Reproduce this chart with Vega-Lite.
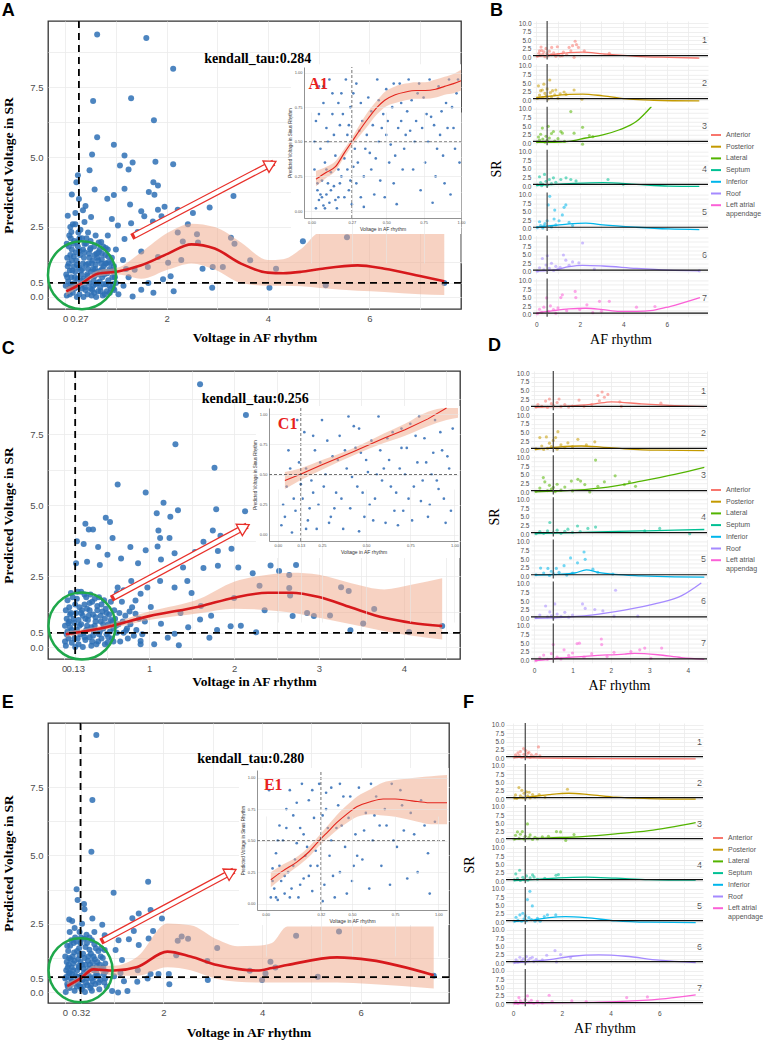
{
"$schema":"https://vega.github.io/schema/vega-lite/v6.json",
"background":"white",
"padding":{"left":1,"top":1,"right":0,"bottom":0},
"config":{
 "view":{"stroke":null},
 "font":"Liberation Sans",
 "axis":{"domain":false,"ticks":false,"labelColor":"#4D4D4D","gridColor":"#EBEBEB","gridWidth":0.8,"labelFont":"Liberation Sans"},
 "title":{"anchor":"start","font":"Liberation Sans","fontSize":18,"fontWeight":"bold","color":"#000","frame":"bounds"},
 "legend":{"labelFont":"Liberation Sans"}
},
"datasets":{
 "Ap":[{"x":0.63,"y":9.38},{"x":1.6,"y":9.25},{"x":2.13,"y":8.15},{"x":0.55,"y":7.0},{"x":1.3,"y":7.1},{"x":1.75,"y":6.31},{"x":0.63,"y":5.71},{"x":0.96,"y":5.44},{"x":0.53,"y":5.09},{"x":1.17,"y":5.05},{"x":1.08,"y":4.7},{"x":1.33,"y":4.8},{"x":1.25,"y":4.55},{"x":1.78,"y":4.83},{"x":2.13,"y":4.74},{"x":0.25,"y":4.35},{"x":0.48,"y":4.53},{"x":0.58,"y":3.84},{"x":0.83,"y":3.51},{"x":0.96,"y":3.64},{"x":1.17,"y":3.87},{"x":1.28,"y":3.3},{"x":1.74,"y":4.1},{"x":1.83,"y":3.98},{"x":1.65,"y":3.75},{"x":1.76,"y":3.65},{"x":3.32,"y":3.61},{"x":2.85,"y":3.2},{"x":2.52,"y":3.0},{"x":1.96,"y":3.22},{"x":2.22,"y":3.12},{"x":1.83,"y":3.12},{"x":1.5,"y":3.06},{"x":1.56,"y":2.88},{"x":1.73,"y":2.7},{"x":1.3,"y":2.63},{"x":1.9,"y":2.88},{"x":2.22,"y":2.3},{"x":2.32,"y":1.98},{"x":2.62,"y":1.95},{"x":2.42,"y":2.6},{"x":2.6,"y":2.24},{"x":2.71,"y":1.01},{"x":2.91,"y":1.07},{"x":3.11,"y":1.07},{"x":3.34,"y":1.9},{"x":3.27,"y":2.12},{"x":3.65,"y":1.31},{"x":4.16,"y":1.01},{"x":4.69,"y":1.99},{"x":5.56,"y":2.13},{"x":2.9,"y":0.33},{"x":4.03,"y":0.33},{"x":5.14,"y":0.42},{"x":7.48,"y":0.5},{"x":2.14,"y":0.2},{"x":2.29,"y":1.32},{"x":2.03,"y":1.22},{"x":1.93,"y":0.63},{"x":2.08,"y":0.74},{"x":1.64,"y":0.5},{"x":1.74,"y":0.15},{"x":1.5,"y":0.26},{"x":1.33,"y":0.02},{"x":0.71,"y":1.96},{"x":0.84,"y":2.2},{"x":1.04,"y":2.55},{"x":0.38,"y":2.68},{"x":0.12,"y":2.32},{"x":0.92,"y":2.79},{"x":0.51,"y":2.86},{"x":1.43,"y":2.32},{"x":1.17,"y":2.07},{"x":1.5,"y":1.62},{"x":1.14,"y":1.32},{"x":1.37,"y":0.97},{"x":1.63,"y":1.07},{"x":1.83,"y":1.43},{"x":0.13,"y":3.66},{"x":0.22,"y":4.1},{"x":0.27,"y":3.5},{"x":0.4,"y":3.25},{"x":0.2,"y":3.0},{"x":0.35,"y":3.1},{"x":0.05,"y":2.9},{"x":0.15,"y":2.6},{"x":1.15,"y":0.4},{"x":1.25,"y":0.7},{"x":1.0,"y":1.7},{"x":1.2,"y":1.0},{"x":1.05,"y":0.1},{"x":0.95,"y":0.3},
  {"x":0.03,"y":0.05},{"x":0.08,"y":0.3},{"x":0.12,"y":0.7},{"x":0.05,"y":1.1},{"x":0.1,"y":1.5},{"x":0.15,"y":0.15},{"x":0.18,"y":0.5},{"x":0.2,"y":0.9},{"x":0.22,"y":1.3},{"x":0.25,"y":1.8},{"x":0.28,"y":0.1},{"x":0.3,"y":0.45},{"x":0.32,"y":0.8},{"x":0.35,"y":1.2},{"x":0.38,"y":1.6},{"x":0.4,"y":0.25},{"x":0.42,"y":0.6},{"x":0.45,"y":1.0},{"x":0.48,"y":1.4},{"x":0.5,"y":2.0},{"x":0.52,"y":0.05},{"x":0.55,"y":0.4},{"x":0.58,"y":0.75},{"x":0.6,"y":1.15},{"x":0.62,"y":1.55},{"x":0.65,"y":0.2},{"x":0.68,"y":0.55},{"x":0.7,"y":0.95},{"x":0.72,"y":1.35},{"x":0.75,"y":1.8},{"x":0.78,"y":0.1},{"x":0.8,"y":0.45},{"x":0.83,"y":0.85},{"x":0.86,"y":1.25},{"x":0.9,"y":0.3},{"x":0.93,"y":0.7},{"x":0.96,"y":1.1},{"x":1.0,"y":0.5},{"x":0.06,"y":0.55},{"x":0.09,"y":0.95},{"x":0.13,"y":1.3},{"x":0.16,"y":1.9},{"x":0.19,"y":0.3},{"x":0.24,"y":0.65},{"x":0.27,"y":1.05},{"x":0.29,"y":1.5},{"x":0.33,"y":2.1},{"x":0.36,"y":0.0},{"x":0.39,"y":0.35},{"x":0.43,"y":0.8},{"x":0.46,"y":1.2},{"x":0.49,"y":1.7},{"x":0.53,"y":0.25},{"x":0.56,"y":0.6},{"x":0.59,"y":1.0},{"x":0.63,"y":1.4},{"x":0.66,"y":1.95},{"x":0.69,"y":0.35},{"x":0.73,"y":0.7},{"x":0.76,"y":1.1},{"x":0.79,"y":1.5},{"x":0.82,"y":0.2},{"x":0.85,"y":0.6},{"x":0.88,"y":1.0},{"x":0.92,"y":1.4},{"x":0.97,"y":0.25},{"x":0.02,"y":0.8},{"x":0.04,"y":1.4},{"x":0.07,"y":1.8},{"x":0.11,"y":2.1},{"x":0.14,"y":0.4},{"x":0.17,"y":1.1},{"x":0.21,"y":1.6},{"x":0.23,"y":0.0},{"x":0.26,"y":2.3},{"x":0.31,"y":0.6},{"x":0.34,"y":1.0},{"x":0.37,"y":1.4},{"x":0.41,"y":1.9},{"x":0.44,"y":0.1},{"x":0.47,"y":0.5},{"x":0.51,"y":0.9},{"x":0.54,"y":1.3},{"x":0.57,"y":1.8},{"x":0.61,"y":0.0},{"x":0.64,"y":0.5},{"x":0.67,"y":0.8},{"x":0.71,"y":1.2},{"x":0.74,"y":0.05},{"x":0.77,"y":0.8},{"x":0.81,"y":1.2},{"x":0.84,"y":1.7},{"x":0.87,"y":0.4},{"x":0.95,"y":0.9},{"x":0.2,"y":2.6},{"x":0.1,"y":2.5},{"x":0.3,"y":2.4},{"x":0.45,"y":2.3},{"x":0.6,"y":2.2},
  {"x":0.01,"y":0.4},{"x":0.04,"y":0.7},{"x":0.07,"y":1.2},{"x":0.09,"y":0.1},{"x":0.11,"y":0.45},{"x":0.14,"y":0.95},{"x":0.17,"y":1.45},{"x":0.19,"y":0.7},{"x":0.23,"y":1.15},{"x":0.26,"y":0.35},{"x":0.28,"y":1.65},{"x":0.31,"y":0.95},{"x":0.33,"y":0.3},{"x":0.36,"y":0.65},{"x":0.38,"y":1.9},{"x":0.41,"y":1.15},{"x":0.44,"y":0.75},{"x":0.47,"y":1.55},{"x":0.5,"y":0.3},{"x":0.52,"y":1.2},{"x":0.55,"y":1.0},{"x":0.57,"y":0.15},{"x":0.6,"y":0.45},{"x":0.62,"y":0.9},{"x":0.65,"y":1.3},{"x":0.68,"y":1.7},{"x":0.7,"y":0.2},{"x":0.73,"y":1.0},{"x":0.76,"y":0.45},{"x":0.79,"y":1.2},{"x":0.82,"y":0.9},{"x":0.85,"y":1.45},{"x":0.88,"y":0.15},{"x":0.91,"y":0.95},{"x":0.94,"y":0.45},{"x":0.03,"y":1.9},{"x":0.08,"y":2.2},{"x":0.13,"y":1.7},{"x":0.18,"y":2.0},{"x":0.23,"y":1.95},{"x":0.28,"y":2.1},{"x":0.35,"y":1.7},{"x":0.42,"y":2.1},{"x":0.5,"y":1.75},{"x":0.58,"y":1.5},{"x":0.66,"y":1.6},{"x":0.72,"y":1.55},{"x":0.8,"y":1.75},{"x":0.9,"y":1.2},{"x":0.98,"y":0.7}],
 "Ac":[{"x":0.02,"y":0.2,"lo":0.05,"hi":0.35},{"x":0.32,"y":0.48,"lo":0.38,"hi":0.58},{"x":0.64,"y":0.83,"lo":0.72,"hi":0.95},{"x":1.04,"y":0.91,"lo":0.8,"hi":1.05},{"x":1.5,"y":1.13,"lo":0.65,"hi":1.6},{"x":2.03,"y":1.55,"lo":0.98,"hi":2.3},{"x":2.49,"y":1.88,"lo":1.2,"hi":2.62},{"x":2.95,"y":1.73,"lo":0.98,"hi":2.5},{"x":3.47,"y":1.19,"lo":0.5,"hi":1.95},{"x":4.0,"y":0.87,"lo":0.4,"hi":1.32},{"x":4.3,"y":0.85,"lo":0.4,"hi":1.35},{"x":4.66,"y":0.9,"lo":0.38,"hi":1.72},{"x":5.03,"y":1.0,"lo":0.32,"hi":2.3},{"x":5.77,"y":1.13,"lo":0.22,"hi":2.3},{"x":6.3,"y":1.01,"lo":0.18,"hi":2.3},{"x":7.0,"y":0.75,"lo":0.1,"hi":2.3},{"x":7.48,"y":0.56,"lo":0.07,"hi":2.3}],
 "A1p":[{"x":0.03,"y":0.02},{"x":0.05,"y":0.08},{"x":0.08,"y":0.04},{"x":0.1,"y":0.12},{"x":0.04,"y":0.15},{"x":0.07,"y":0.22},{"x":0.12,"y":0.06},{"x":0.15,"y":0.18},{"x":0.02,"y":0.3},{"x":0.09,"y":0.35},{"x":0.13,"y":0.28},{"x":0.18,"y":0.1},{"x":0.2,"y":0.25},{"x":0.06,"y":0.45},{"x":0.11,"y":0.5},{"x":0.16,"y":0.4},{"x":0.22,"y":0.38},{"x":0.25,"y":0.15},{"x":0.27,"y":0.05},{"x":0.3,"y":0.2},{"x":0.33,"y":0.1},{"x":0.28,"y":0.32},{"x":0.24,"y":0.55},{"x":0.19,"y":0.62},{"x":0.14,"y":0.7},{"x":0.08,"y":0.78},{"x":0.05,"y":0.9},{"x":0.12,"y":0.95},{"x":0.2,"y":0.85},{"x":0.26,"y":0.75},{"x":0.3,"y":0.92},{"x":0.34,"y":0.65},{"x":0.36,"y":0.45},{"x":0.4,"y":0.3},{"x":0.42,"y":0.12},{"x":0.45,"y":0.5},{"x":0.48,"y":0.7},{"x":0.5,"y":0.88},{"x":0.52,"y":0.35},{"x":0.55,"y":0.2},{"x":0.58,"y":0.6},{"x":0.6,"y":0.78},{"x":0.62,"y":0.45},{"x":0.65,"y":0.95},{"x":0.68,"y":0.3},{"x":0.7,"y":0.65},{"x":0.73,"y":0.15},{"x":0.75,"y":0.82},{"x":0.78,"y":0.5},{"x":0.8,"y":0.68},{"x":0.83,"y":0.25},{"x":0.85,"y":0.9},{"x":0.88,"y":0.4},{"x":0.9,"y":0.78},{"x":0.93,"y":0.12},{"x":0.95,"y":0.6},{"x":0.97,"y":0.85},{"x":0.99,"y":0.35},{"x":0.38,"y":0.82},{"x":0.44,"y":0.95},{"x":0.57,"y":0.05},{"x":0.63,"y":0.55},{"x":0.72,"y":0.92},{"x":0.81,"y":0.06},{"x":0.86,"y":0.55},{"x":0.92,"y":0.95},{"x":0.1,"y":0.6},{"x":0.17,"y":0.02},{"x":0.23,"y":0.95},{"x":0.32,"y":0.58},{"x":0.46,"y":0.22},{"x":0.54,"y":0.75},{"x":0.67,"y":0.8},{"x":0.76,"y":0.35},{"x":0.89,"y":0.2},{"x":0.96,"y":0.45},{"x":0.35,"y":0.03},{"x":0.41,"y":0.62},{"x":0.49,"y":0.1},{"x":0.59,"y":0.92},{"x":0.03,"y":0.65},{"x":0.29,"y":0.45},{"x":0.21,"y":0.7},{"x":0.14,"y":0.85},{"x":0.06,"y":0.12},{"x":0.11,"y":0.2},{"x":0.18,"y":0.3},{"x":0.09,"y":0.02},
  {"x":0.04,"y":0.2},{"x":0.07,"y":0.1},{"x":0.1,"y":0.3},{"x":0.13,"y":0.15},{"x":0.16,"y":0.08},{"x":0.19,"y":0.2},{"x":0.22,"y":0.1},{"x":0.24,"y":0.3},{"x":0.26,"y":0.22},{"x":0.31,"y":0.35},{"x":0.35,"y":0.25},{"x":0.39,"y":0.42},{"x":0.43,"y":0.38},{"x":0.47,"y":0.6},{"x":0.51,"y":0.65},{"x":0.53,"y":0.48},{"x":0.56,"y":0.4},{"x":0.61,"y":0.3},{"x":0.64,"y":0.72},{"x":0.66,"y":0.58},{"x":0.69,"y":0.5},{"x":0.71,"y":0.85},{"x":0.74,"y":0.6},{"x":0.77,"y":0.7},{"x":0.79,"y":0.95},{"x":0.82,"y":0.62},{"x":0.84,"y":0.45},{"x":0.87,"y":0.72},{"x":0.91,"y":0.6},{"x":0.94,"y":0.75},{"x":0.98,"y":0.95},{"x":0.02,"y":0.5},{"x":0.05,"y":0.7},{"x":0.08,"y":0.9},{"x":0.15,"y":0.55},{"x":0.18,"y":0.78},{"x":0.25,"y":0.62},{"x":0.28,"y":0.85},{"x":0.33,"y":0.78},{"x":0.37,"y":0.55},{"x":0.4,"y":0.72},{"x":0.45,"y":0.8},{"x":0.5,"y":0.55},{"x":0.55,"y":0.92},{"x":0.6,"y":0.65}],
 "A1c":[{"x":0.03,"y":0.23,"lo":0.18,"hi":0.29},{"x":0.1,"y":0.28,"lo":0.24,"hi":0.32},{"x":0.16,"y":0.32,"lo":0.29,"hi":0.36},{"x":0.22,"y":0.42,"lo":0.39,"hi":0.45},{"x":0.27,"y":0.5,"lo":0.47,"hi":0.53},{"x":0.32,"y":0.58,"lo":0.54,"hi":0.62},{"x":0.38,"y":0.67,"lo":0.62,"hi":0.72},{"x":0.44,"y":0.75,"lo":0.7,"hi":0.8},{"x":0.49,"y":0.8,"lo":0.75,"hi":0.86},{"x":0.56,"y":0.84,"lo":0.78,"hi":0.9},{"x":0.63,"y":0.86,"lo":0.8,"hi":0.92},{"x":0.7,"y":0.87,"lo":0.81,"hi":0.93},{"x":0.76,"y":0.87,"lo":0.81,"hi":0.93},{"x":0.83,"y":0.88,"lo":0.82,"hi":0.95},{"x":0.89,"y":0.9,"lo":0.84,"hi":0.97},{"x":0.95,"y":0.92,"lo":0.85,"hi":0.99},{"x":1.0,"y":0.94,"lo":0.87,"hi":1.02}],
 "Cp":[{"x":1.6,"y":9.25},{"x":2.14,"y":8.17},{"x":1.31,"y":7.14},{"x":1.77,"y":6.31},{"x":0.63,"y":5.72},{"x":0.96,"y":5.44},{"x":1.17,"y":5.08},{"x":1.09,"y":4.71},{"x":1.25,"y":4.59},{"x":1.34,"y":4.82},{"x":1.79,"y":4.85},{"x":2.13,"y":4.78},{"x":0.25,"y":4.34},{"x":0.29,"y":4.14},{"x":0.34,"y":4.14},{"x":0.49,"y":4.55},{"x":0.54,"y":4.4},{"x":0.15,"y":3.73},{"x":0.23,"y":3.63},{"x":0.4,"y":3.52},{"x":0.57,"y":3.84},{"x":0.78,"y":3.52},{"x":0.96,"y":3.41},{"x":1.11,"y":4.1},{"x":1.13,"y":3.84},{"x":1.24,"y":3.84},{"x":1.1,"y":3.54},{"x":1.75,"y":4.1},{"x":1.84,"y":3.92},{"x":1.64,"y":3.71},{"x":1.97,"y":3.46},{"x":1.81,"y":3.38},{"x":1.54,"y":3.35},{"x":0.27,"y":3.0},{"x":0.51,"y":3.25},{"x":0.14,"y":2.95},{"x":0.42,"y":2.89},{"x":0.67,"y":3.12},{"x":0.87,"y":2.95},{"x":1.14,"y":3.08},{"x":1.3,"y":3.3},{"x":1.4,"y":2.8},{"x":1.64,"y":2.78},{"x":1.81,"y":2.86},{"x":2.05,"y":2.8},{"x":2.43,"y":2.87},{"x":2.73,"y":2.89},{"x":2.53,"y":3.25},{"x":2.22,"y":2.6},{"x":2.53,"y":2.68},{"x":2.65,"y":2.54},{"x":2.3,"y":2.16},{"x":2.65,"y":2.08},{"x":2.66,"y":1.82},{"x":3.26,"y":2.11},{"x":3.35,"y":1.97},{"x":2.36,"y":1.3},{"x":2.69,"y":1.09},{"x":2.86,"y":1.2},{"x":2.94,"y":1.09},{"x":3.13,"y":1.11},{"x":3.65,"y":1.34},{"x":3.52,"y":0.83},{"x":3.37,"y":0.59},{"x":4.06,"y":0.53},{"x":4.45,"y":0.74},{"x":2.26,"y":0.52},{"x":1.96,"y":0.73},{"x":2.08,"y":0.75},{"x":1.71,"y":0.33},{"x":1.35,"y":0.06},{"x":1.61,"y":1.45},{"x":1.73,"y":1.1},{"x":2.0,"y":1.73},{"x":1.5,"y":1.9},{"x":1.46,"y":0.7},{"x":1.3,"y":0.47},{"x":1.14,"y":0.82},{"x":1.02,"y":1.41},{"x":0.9,"y":1.88},{"x":0.84,"y":1.17},{"x":0.73,"y":0.58},{"x":0.9,"y":0.21},{"x":1.06,"y":0.1},{"x":1.22,"y":0.33},{"x":1.37,"y":1.2},{"x":1.6,"y":0.97},{"x":1.8,"y":0.6},{"x":1.45,"y":2.33},{"x":1.3,"y":2.1},{"x":1.13,"y":2.33},{"x":0.98,"y":2.1},{"x":0.79,"y":2.33},{"x":0.63,"y":2.1},{"x":0.84,"y":1.64},
  {"x":0.02,"y":0.05},{"x":0.05,"y":0.3},{"x":0.07,"y":0.7},{"x":0.03,"y":1.0},{"x":0.06,"y":1.4},{"x":0.09,"y":0.15},{"x":0.11,"y":0.5},{"x":0.12,"y":0.85},{"x":0.14,"y":1.2},{"x":0.15,"y":1.7},{"x":0.17,"y":0.1},{"x":0.19,"y":0.45},{"x":0.2,"y":0.8},{"x":0.22,"y":1.1},{"x":0.24,"y":1.5},{"x":0.25,"y":0.25},{"x":0.26,"y":0.6},{"x":0.28,"y":0.95},{"x":0.3,"y":1.3},{"x":0.31,"y":1.85},{"x":0.32,"y":0.05},{"x":0.34,"y":0.4},{"x":0.36,"y":0.75},{"x":0.37,"y":1.05},{"x":0.39,"y":1.45},{"x":0.4,"y":0.2},{"x":0.42,"y":0.55},{"x":0.43,"y":0.9},{"x":0.45,"y":1.25},{"x":0.47,"y":1.65},{"x":0.48,"y":0.1},{"x":0.5,"y":0.45},{"x":0.52,"y":0.8},{"x":0.53,"y":1.15},{"x":0.56,"y":0.3},{"x":0.58,"y":0.65},{"x":0.6,"y":1.0},{"x":0.62,"y":0.5},{"x":0.04,"y":0.55},{"x":0.06,"y":0.9},{"x":0.08,"y":1.2},{"x":0.1,"y":1.75},{"x":0.12,"y":0.3},{"x":0.15,"y":0.6},{"x":0.17,"y":0.95},{"x":0.18,"y":1.4},{"x":0.2,"y":1.95},{"x":0.22,"y":0.0},{"x":0.24,"y":0.35},{"x":0.27,"y":0.75},{"x":0.29,"y":1.1},{"x":0.3,"y":1.55},{"x":0.33,"y":0.2},{"x":0.35,"y":0.55},{"x":0.37,"y":0.9},{"x":0.39,"y":1.3},{"x":0.41,"y":1.75},{"x":0.44,"y":0.3},{"x":0.46,"y":0.65},{"x":0.48,"y":1.0},{"x":0.49,"y":1.35},{"x":0.51,"y":0.15},{"x":0.54,"y":0.55},{"x":0.57,"y":0.9},{"x":0.59,"y":1.3},{"x":0.01,"y":0.75},{"x":0.02,"y":1.3},{"x":0.04,"y":1.65},{"x":0.13,"y":0.0},{"x":0.21,"y":1.3},{"x":0.26,"y":1.75},{"x":0.33,"y":1.6},{"x":0.44,"y":1.5},{"x":0.55,"y":1.6},{"x":0.64,"y":0.8},{"x":0.66,"y":0.2},{"x":0.7,"y":0.5},{"x":0.72,"y":1.1},{"x":0.75,"y":0.3},{"x":0.78,"y":0.8},{"x":0.8,"y":1.4},{"x":0.68,"y":1.6},{"x":0.85,"y":0.6},{"x":0.9,"y":0.1},{"x":0.95,"y":0.9},{"x":0.62,"y":1.9},{"x":0.7,"y":2.0},
  {"x":0.01,"y":0.2},{"x":0.03,"y":0.45},{"x":0.05,"y":0.85},{"x":0.07,"y":1.15},{"x":0.09,"y":0.6},{"x":0.11,"y":1.0},{"x":0.13,"y":1.5},{"x":0.16,"y":0.3},{"x":0.18,"y":0.75},{"x":0.2,"y":1.2},{"x":0.23,"y":0.5},{"x":0.25,"y":1.0},{"x":0.27,"y":1.35},{"x":0.3,"y":0.35},{"x":0.32,"y":0.7},{"x":0.34,"y":1.15},{"x":0.36,"y":1.7},{"x":0.38,"y":0.1},{"x":0.41,"y":0.45},{"x":0.43,"y":1.1},{"x":0.46,"y":0.8},{"x":0.5,"y":1.2},{"x":0.52,"y":0.35},{"x":0.55,"y":0.95},{"x":0.58,"y":0.2},{"x":0.61,"y":0.75},{"x":0.65,"y":1.2},{"x":0.69,"y":0.9},{"x":0.74,"y":0.65},{"x":0.77,"y":1.25},{"x":0.82,"y":0.4},{"x":0.88,"y":1.0},{"x":0.92,"y":0.45},{"x":0.08,"y":1.9},{"x":0.16,"y":1.95},{"x":0.24,"y":1.85}],
 "Cc":[{"x":0.02,"y":0.45,"lo":0.35,"hi":0.55},{"x":0.44,"y":0.66,"lo":0.58,"hi":0.75},{"x":1.0,"y":1.09,"lo":0.95,"hi":1.25},{"x":1.61,"y":1.44,"lo":1.2,"hi":1.72},{"x":2.0,"y":1.74,"lo":1.35,"hi":2.3},{"x":2.4,"y":1.91,"lo":1.3,"hi":2.55},{"x":2.67,"y":1.91,"lo":1.22,"hi":2.62},{"x":3.0,"y":1.76,"lo":1.03,"hi":2.55},{"x":3.38,"y":1.39,"lo":0.8,"hi":2.25},{"x":3.77,"y":1.03,"lo":0.56,"hi":2.03},{"x":4.1,"y":0.85,"lo":0.4,"hi":2.2},{"x":4.45,"y":0.74,"lo":0.27,"hi":2.42}],
 "C1p":[{"x":0.02,"y":0.08},{"x":0.05,"y":0.4},{"x":0.08,"y":0.02},{"x":0.1,"y":0.2},{"x":0.12,"y":0.6},{"x":0.14,"y":0.3},{"x":0.15,"y":0.85},{"x":0.17,"y":0.12},{"x":0.19,"y":0.45},{"x":0.21,"y":0.7},{"x":0.23,"y":0.25},{"x":0.25,"y":0.95},{"x":0.27,"y":0.5},{"x":0.29,"y":0.1},{"x":0.31,"y":0.65},{"x":0.33,"y":0.35},{"x":0.35,"y":0.82},{"x":0.37,"y":0.05},{"x":0.39,"y":0.55},{"x":0.41,"y":0.22},{"x":0.43,"y":0.9},{"x":0.45,"y":0.4},{"x":0.47,"y":0.68},{"x":0.49,"y":0.15},{"x":0.51,"y":0.52},{"x":0.53,"y":0.78},{"x":0.55,"y":0.3},{"x":0.57,"y":0.98},{"x":0.59,"y":0.45},{"x":0.61,"y":0.1},{"x":0.63,"y":0.62},{"x":0.65,"y":0.85},{"x":0.67,"y":0.35},{"x":0.69,"y":0.55},{"x":0.71,"y":0.2},{"x":0.73,"y":0.72},{"x":0.75,"y":0.92},{"x":0.77,"y":0.4},{"x":0.79,"y":0.6},{"x":0.81,"y":0.28},{"x":0.83,"y":0.8},{"x":0.85,"y":0.15},{"x":0.87,"y":0.5},{"x":0.89,"y":0.95},{"x":0.91,"y":0.38},{"x":0.93,"y":0.7},{"x":0.95,"y":0.1},{"x":0.97,"y":0.55},{"x":0.99,"y":0.88},{"x":0.06,"y":0.7},{"x":0.11,"y":0.95},{"x":0.16,"y":0.55},{"x":0.22,"y":0.05},{"x":0.28,"y":0.78},{"x":0.34,"y":0.62},{"x":0.4,"y":0.98},{"x":0.46,"y":0.03},{"x":0.52,"y":0.25},{"x":0.58,"y":0.7},{"x":0.64,"y":0.4},{"x":0.7,"y":0.88},{"x":0.76,"y":0.12},{"x":0.82,"y":0.45},{"x":0.88,"y":0.68},{"x":0.94,"y":0.3},{"x":0.03,"y":0.25},{"x":0.2,"y":0.35},{"x":0.32,"y":0.22},{"x":0.44,"y":0.72},{"x":0.56,"y":0.5},{"x":0.68,"y":0.08},{"x":0.8,"y":0.98},
  {"x":0.04,"y":0.15},{"x":0.09,"y":0.3},{"x":0.13,"y":0.42},{"x":0.18,"y":0.22},{"x":0.24,"y":0.6},{"x":0.26,"y":0.4},{"x":0.3,"y":0.15},{"x":0.36,"y":0.3},{"x":0.38,"y":0.7},{"x":0.42,"y":0.48},{"x":0.48,"y":0.35},{"x":0.5,"y":0.62},{"x":0.54,"y":0.12},{"x":0.6,"y":0.55},{"x":0.62,"y":0.8},{"x":0.66,"y":0.2},{"x":0.72,"y":0.5},{"x":0.74,"y":0.3},{"x":0.78,"y":0.82},{"x":0.84,"y":0.6},{"x":0.86,"y":0.25},{"x":0.9,"y":0.45},{"x":0.92,"y":0.85},{"x":0.96,"y":0.65},{"x":0.98,"y":0.2},{"x":0.07,"y":0.55},{"x":0.2,"y":0.82},{"x":0.46,"y":0.88},{"x":0.7,"y":0.72},{"x":0.16,"y":0.05}],
 "C1c":[{"x":0.04,"y":0.45,"lo":0.38,"hi":0.52},{"x":0.125,"y":0.5,"lo":0.45,"hi":0.55},{"x":0.25,"y":0.58,"lo":0.54,"hi":0.62},{"x":0.43,"y":0.69,"lo":0.66,"hi":0.72},{"x":0.6,"y":0.8,"lo":0.76,"hi":0.84},{"x":0.72,"y":0.87,"lo":0.82,"hi":0.92},{"x":0.85,"y":0.96,"lo":0.9,"hi":1.02},{"x":0.955,"y":1.05,"lo":0.95,"hi":1.05},{"x":1.02,"y":1.05,"lo":0.97,"hi":1.05}],
 "Ep":[{"x":0.64,"y":9.41},{"x":0.56,"y":7.03},{"x":0.54,"y":5.14},{"x":1.69,"y":4.04},{"x":0.99,"y":3.64},{"x":0.24,"y":3.76},{"x":0.26,"y":3.37},{"x":0.39,"y":3.22},{"x":0.4,"y":3.03},{"x":0.09,"y":2.66},{"x":0.56,"y":2.69},{"x":0.76,"y":2.46},{"x":1.37,"y":2.7},{"x":1.5,"y":2.88},{"x":1.74,"y":3.0},{"x":1.97,"y":3.0},{"x":1.97,"y":2.69},{"x":1.79,"y":2.24},{"x":1.7,"y":1.96},{"x":1.5,"y":1.72},{"x":1.4,"y":2.24},{"x":1.3,"y":1.93},{"x":1.03,"y":1.54},{"x":1.16,"y":1.17},{"x":0.81,"y":2.08},{"x":1.09,"y":1.9},{"x":0.81,"y":1.54},{"x":2.29,"y":1.88},{"x":2.37,"y":2.03},{"x":2.5,"y":1.95},{"x":2.26,"y":1.35},{"x":3.09,"y":1.61},{"x":2.89,"y":1.14},{"x":3.75,"y":0.78},{"x":4.0,"y":0.44},{"x":4.07,"y":0.68},{"x":4.17,"y":1.11},{"x":4.27,"y":0.9},{"x":4.69,"y":2.06},{"x":5.56,"y":2.22},{"x":5.13,"y":0.56},{"x":7.48,"y":0.6},{"x":2.9,"y":0.44},{"x":2.12,"y":0.29},{"x":2.11,"y":0.66},{"x":1.9,"y":0.66},{"x":1.74,"y":0.66},{"x":1.47,"y":0.38},{"x":1.68,"y":0.5},{"x":1.48,"y":0.8},{"x":1.27,"y":0.04},{"x":1.08,"y":-0.02},{"x":0.96,"y":0.04},{"x":1.0,"y":0.58},{"x":1.13,"y":0.7},{"x":1.2,"y":0.4},
  {"x":0.02,"y":0.0},{"x":0.05,"y":0.3},{"x":0.08,"y":0.7},{"x":0.04,"y":1.1},{"x":0.07,"y":1.5},{"x":0.1,"y":0.15},{"x":0.12,"y":0.5},{"x":0.14,"y":0.9},{"x":0.16,"y":1.3},{"x":0.18,"y":1.8},{"x":0.2,"y":0.05},{"x":0.23,"y":0.4},{"x":0.25,"y":0.8},{"x":0.27,"y":1.2},{"x":0.29,"y":1.6},{"x":0.31,"y":0.2},{"x":0.33,"y":0.6},{"x":0.35,"y":1.0},{"x":0.37,"y":1.4},{"x":0.39,"y":1.95},{"x":0.41,"y":0.0},{"x":0.43,"y":0.35},{"x":0.45,"y":0.75},{"x":0.47,"y":1.15},{"x":0.5,"y":1.55},{"x":0.52,"y":0.15},{"x":0.54,"y":0.5},{"x":0.56,"y":0.9},{"x":0.58,"y":1.3},{"x":0.6,"y":1.75},{"x":0.62,"y":0.3},{"x":0.64,"y":0.7},{"x":0.66,"y":1.1},{"x":0.68,"y":1.5},{"x":0.7,"y":0.1},{"x":0.72,"y":0.45},{"x":0.75,"y":0.85},{"x":0.77,"y":1.25},{"x":0.8,"y":0.35},{"x":0.83,"y":0.75},{"x":0.03,"y":0.55},{"x":0.06,"y":0.9},{"x":0.09,"y":1.25},{"x":0.11,"y":1.7},{"x":0.13,"y":0.3},{"x":0.15,"y":0.65},{"x":0.17,"y":1.05},{"x":0.19,"y":1.45},{"x":0.21,"y":2.0},{"x":0.24,"y":0.2},{"x":0.26,"y":0.55},{"x":0.28,"y":0.95},{"x":0.3,"y":1.35},{"x":0.32,"y":1.8},{"x":0.34,"y":0.1},{"x":0.36,"y":0.45},{"x":0.38,"y":0.85},{"x":0.4,"y":1.25},{"x":0.42,"y":1.65},{"x":0.44,"y":2.1},{"x":0.46,"y":0.25},{"x":0.49,"y":0.6},{"x":0.51,"y":1.0},{"x":0.53,"y":1.4},{"x":0.55,"y":0.05},{"x":0.57,"y":0.4},{"x":0.59,"y":0.8},{"x":0.61,"y":1.2},{"x":0.63,"y":1.6},{"x":0.67,"y":0.6},{"x":0.71,"y":1.0},{"x":0.74,"y":1.6},{"x":0.79,"y":0.65},{"x":0.82,"y":1.05},{"x":0.85,"y":0.2},{"x":0.01,"y":1.3},{"x":0.1,"y":2.2},{"x":0.2,"y":2.35},{"x":0.3,"y":2.2},{"x":0.15,"y":2.6},{"x":0.35,"y":2.5},{"x":0.5,"y":2.0},{"x":0.6,"y":2.2},
  {"x":0.01,"y":0.5},{"x":0.03,"y":0.8},{"x":0.06,"y":0.2},{"x":0.08,"y":1.0},{"x":0.1,"y":0.7},{"x":0.12,"y":1.2},{"x":0.15,"y":0.4},{"x":0.17,"y":0.8},{"x":0.2,"y":1.15},{"x":0.22,"y":0.6},{"x":0.25,"y":1.5},{"x":0.27,"y":0.3},{"x":0.29,"y":0.9},{"x":0.32,"y":1.1},{"x":0.34,"y":0.45},{"x":0.37,"y":0.2},{"x":0.39,"y":0.7},{"x":0.42,"y":1.0},{"x":0.45,"y":0.5},{"x":0.48,"y":1.3},{"x":0.5,"y":0.85},{"x":0.53,"y":0.25},{"x":0.56,"y":1.1},{"x":0.6,"y":0.55},{"x":0.65,"y":0.95},{"x":0.69,"y":0.35},{"x":0.73,"y":1.3},{"x":0.78,"y":0.9},{"x":0.82,"y":0.5},{"x":0.05,"y":1.7},{"x":0.13,"y":1.9},{"x":0.24,"y":1.85},{"x":0.33,"y":2.0},{"x":0.45,"y":1.8},{"x":0.55,"y":1.9}],
 "Ec":[{"x":0.05,"y":0.22,"lo":0.08,"hi":0.36},{"x":0.32,"y":0.5,"lo":0.4,"hi":0.6},{"x":0.58,"y":0.83,"lo":0.7,"hi":0.96},{"x":0.99,"y":0.79,"lo":0.62,"hi":0.96},{"x":1.47,"y":0.92,"lo":0.6,"hi":1.29},{"x":2.08,"y":1.48,"lo":0.91,"hi":2.51},{"x":2.55,"y":1.3,"lo":0.8,"hi":2.45},{"x":3.09,"y":0.99,"lo":0.48,"hi":1.92},{"x":3.5,"y":0.85,"lo":0.38,"hi":1.68},{"x":3.9,"y":0.79,"lo":0.35,"hi":1.7},{"x":4.2,"y":0.88,"lo":0.35,"hi":1.8},{"x":4.51,"y":0.99,"lo":0.35,"hi":2.4},{"x":5.52,"y":1.27,"lo":0.35,"hi":2.4},{"x":6.2,"y":1.17,"lo":0.3,"hi":2.4},{"x":7.48,"y":0.62,"lo":0.13,"hi":2.4}],
 "E1p":[{"x":0.03,"y":0.05},{"x":0.05,"y":0.12},{"x":0.07,"y":0.03},{"x":0.09,"y":0.18},{"x":0.04,"y":0.28},{"x":0.11,"y":0.08},{"x":0.13,"y":0.25},{"x":0.06,"y":0.4},{"x":0.15,"y":0.12},{"x":0.1,"y":0.5},{"x":0.17,"y":0.35},{"x":0.08,"y":0.62},{"x":0.19,"y":0.05},{"x":0.12,"y":0.75},{"x":0.2,"y":0.6},{"x":0.22,"y":0.2},{"x":0.14,"y":0.9},{"x":0.24,"y":0.45},{"x":0.25,"y":0.82},{"x":0.27,"y":0.1},{"x":0.28,"y":0.68},{"x":0.3,"y":0.3},{"x":0.31,"y":0.95},{"x":0.32,"y":0.52},{"x":0.34,"y":0.15},{"x":0.35,"y":0.75},{"x":0.37,"y":0.38},{"x":0.38,"y":0.92},{"x":0.4,"y":0.05},{"x":0.41,"y":0.6},{"x":0.43,"y":0.25},{"x":0.45,"y":0.85},{"x":0.46,"y":0.45},{"x":0.48,"y":0.68},{"x":0.5,"y":0.18},{"x":0.52,"y":0.55},{"x":0.54,"y":0.92},{"x":0.56,"y":0.35},{"x":0.58,"y":0.72},{"x":0.6,"y":0.12},{"x":0.62,"y":0.5},{"x":0.64,"y":0.85},{"x":0.67,"y":0.3},{"x":0.7,"y":0.62},{"x":0.73,"y":0.95},{"x":0.76,"y":0.45},{"x":0.79,"y":0.78},{"x":0.82,"y":0.2},{"x":0.86,"y":0.55},{"x":0.9,"y":0.82},{"x":0.94,"y":0.4},{"x":0.98,"y":0.65},{"x":0.18,"y":0.48},{"x":0.21,"y":0.95},{"x":0.26,"y":0.3},{"x":0.33,"y":0.02},{"x":0.36,"y":0.6},{"x":0.42,"y":0.78},{"x":0.47,"y":0.08},{"x":0.53,"y":0.38},{"x":0.61,"y":0.95},{"x":0.66,"y":0.62},{"x":0.72,"y":0.15},{"x":0.8,"y":0.58},{"x":0.88,"y":0.25},{"x":0.95,"y":0.08},{"x":0.02,"y":0.9},{"x":0.16,"y":0.7},{"x":0.23,"y":0.38},{"x":0.39,"y":0.22},
  {"x":0.04,"y":0.18},{"x":0.06,"y":0.05},{"x":0.08,"y":0.3},{"x":0.11,"y":0.22},{"x":0.14,"y":0.05},{"x":0.16,"y":0.3},{"x":0.2,"y":0.15},{"x":0.22,"y":0.55},{"x":0.25,"y":0.22},{"x":0.29,"y":0.42},{"x":0.33,"y":0.7},{"x":0.38,"y":0.5},{"x":0.44,"y":0.62},{"x":0.49,"y":0.85},{"x":0.51,"y":0.3},{"x":0.57,"y":0.58},{"x":0.63,"y":0.7},{"x":0.69,"y":0.75},{"x":0.74,"y":0.5},{"x":0.78,"y":0.9},{"x":0.84,"y":0.72},{"x":0.92,"y":0.62},{"x":0.07,"y":0.5},{"x":0.12,"y":0.6},{"x":0.18,"y":0.8},{"x":0.27,"y":0.9},{"x":0.35,"y":0.88},{"x":0.43,"y":0.95}],
 "E1c":[{"x":0.03,"y":0.19,"lo":0.13,"hi":0.25},{"x":0.1,"y":0.26,"lo":0.21,"hi":0.31},{"x":0.18,"y":0.33,"lo":0.29,"hi":0.37},{"x":0.25,"y":0.41,"lo":0.37,"hi":0.45},{"x":0.31,"y":0.5,"lo":0.46,"hi":0.54},{"x":0.36,"y":0.57,"lo":0.52,"hi":0.62},{"x":0.41,"y":0.64,"lo":0.58,"hi":0.7},{"x":0.47,"y":0.71,"lo":0.64,"hi":0.78},{"x":0.53,"y":0.77,"lo":0.69,"hi":0.85},{"x":0.61,"y":0.81,"lo":0.71,"hi":0.91},{"x":0.68,"y":0.83,"lo":0.7,"hi":0.96},{"x":0.75,"y":0.83,"lo":0.69,"hi":0.98},{"x":0.82,"y":0.82,"lo":0.67,"hi":0.99},{"x":0.88,"y":0.81,"lo":0.65,"hi":1.0},{"x":0.96,"y":0.8,"lo":0.63,"hi":1.01},{"x":1.05,"y":0.8,"lo":0.63,"hi":1.02}],
 "B":[{"r":1,"x":0.05,"y":0.3},{"r":1,"x":0.12,"y":1.2},{"r":1,"x":0.18,"y":0.6},{"r":1,"x":0.25,"y":2.0},{"r":1,"x":0.3,"y":0.9},{"r":1,"x":0.35,"y":1.6},{"r":1,"x":0.4,"y":0.2},{"r":1,"x":0.45,"y":2.6},{"r":1,"x":0.5,"y":1.1},{"r":1,"x":0.55,"y":0.5},{"r":1,"x":0.6,"y":1.8},{"r":1,"x":0.7,"y":0.8},{"r":1,"x":0.8,"y":1.3},{"r":1,"x":0.9,"y":0.3},{"r":1,"x":1.0,"y":0.9},{"r":1,"x":1.1,"y":0.4},{"r":1,"x":0.22,"y":3.0},{"r":1,"x":0.15,"y":1.9},{"r":1,"x":0.71,"y":2.9},{"r":1,"x":0.97,"y":3.1},{"r":1,"x":1.25,"y":1.5},{"r":1,"x":1.67,"y":3.4},{"r":1,"x":1.79,"y":4.7},{"r":1,"x":1.85,"y":3.7},{"r":1,"x":1.94,"y":2.9},{"r":1,"x":1.51,"y":2.9},{"r":1,"x":1.59,"y":1.9},{"r":1,"x":2.21,"y":1.9},{"r":1,"x":3.36,"y":1.2},{"r":1,"x":1.2,"y":0.5},{"r":1,"x":1.74,"y":0.0},{"r":1,"x":1.4,"y":0.8},
  {"r":1,"x":0,"y":0.3,"c":1},{"r":1,"x":0.79,"y":0.8,"c":1},{"r":1,"x":1.51,"y":1.4,"c":1},{"r":1,"x":2.13,"y":1.5,"c":1},{"r":1,"x":3.06,"y":1.0,"c":1},{"r":1,"x":4.6,"y":0.3,"c":1},{"r":1,"x":6.1,"y":0.0,"c":1},{"r":1,"x":7.5,"y":-0.2,"c":1},
  {"r":2,"x":0.05,"y":0.5},{"r":2,"x":0.1,"y":4.2},{"r":2,"x":0.15,"y":1.5},{"r":2,"x":0.2,"y":2.8},{"r":2,"x":0.28,"y":3.0},{"r":2,"x":0.35,"y":4.7},{"r":2,"x":0.3,"y":0.8},{"r":2,"x":0.4,"y":2.0},{"r":2,"x":0.45,"y":1.2},{"r":2,"x":0.5,"y":3.3},{"r":2,"x":0.55,"y":0.4},{"r":2,"x":0.62,"y":5.9},{"r":2,"x":0.65,"y":2.2},{"r":2,"x":0.7,"y":1.0},{"r":2,"x":0.75,"y":2.8},{"r":2,"x":0.85,"y":1.6},{"r":2,"x":0.9,"y":3.0},{"r":2,"x":1.0,"y":0.6},{"r":2,"x":1.28,"y":2.4},{"r":2,"x":1.74,"y":3.0},{"r":2,"x":1.37,"y":1.7},{"r":2,"x":2.1,"y":0.3},{"r":2,"x":1.1,"y":1.9},
  {"r":2,"x":0,"y":0.8,"c":1},{"r":2,"x":0.79,"y":1.3,"c":1},{"r":2,"x":1.51,"y":1.7,"c":1},{"r":2,"x":2.13,"y":1.8,"c":1},{"r":2,"x":3.06,"y":1.3,"c":1},{"r":2,"x":4.3,"y":0.3,"c":1},{"r":2,"x":5.4,"y":0.0,"c":1},{"r":2,"x":7.5,"y":-0.2,"c":1},
  {"r":3,"x":0.05,"y":0.4},{"r":3,"x":0.1,"y":1.8},{"r":3,"x":0.15,"y":0.9},{"r":3,"x":0.2,"y":2.6},{"r":3,"x":0.28,"y":4.4},{"r":3,"x":0.3,"y":1.2},{"r":3,"x":0.4,"y":0.3},{"r":3,"x":0.45,"y":2.0},{"r":3,"x":0.55,"y":4.9},{"r":3,"x":0.5,"y":0.8},{"r":3,"x":0.6,"y":1.5},{"r":3,"x":0.7,"y":2.8},{"r":3,"x":0.79,"y":3.4},{"r":3,"x":0.85,"y":0.6},{"r":3,"x":1.0,"y":1.3},{"r":3,"x":1.13,"y":3.4},{"r":3,"x":1.2,"y":2.9},{"r":3,"x":1.59,"y":9.2},{"r":3,"x":2.13,"y":4.6},{"r":3,"x":1.74,"y":2.9},{"r":3,"x":2.44,"y":2.2},{"r":3,"x":2.6,"y":1.9},{"r":3,"x":2.13,"y":-0.3},{"r":3,"x":1.3,"y":0.5},
  {"r":3,"x":0,"y":0.2,"c":1},{"r":3,"x":0.79,"y":0.2,"c":1},{"r":3,"x":1.51,"y":0.5,"c":1},{"r":3,"x":2.28,"y":1.5,"c":1},{"r":3,"x":3.06,"y":2.4,"c":1},{"r":3,"x":3.83,"y":3.9,"c":1},{"r":3,"x":4.6,"y":6.3,"c":1},{"r":3,"x":5.3,"y":10.7,"c":1},
  {"r":4,"x":0.05,"y":0.3},{"r":4,"x":0.15,"y":2.7},{"r":4,"x":0.2,"y":1.0},{"r":4,"x":0.3,"y":0.5},{"r":4,"x":0.38,"y":3.4},{"r":4,"x":0.45,"y":1.4},{"r":4,"x":0.5,"y":0.2},{"r":4,"x":0.6,"y":1.9},{"r":4,"x":0.7,"y":0.7},{"r":4,"x":0.79,"y":2.4},{"r":4,"x":0.9,"y":1.1},{"r":4,"x":1.13,"y":1.9},{"r":4,"x":1.37,"y":2.4},{"r":4,"x":1.59,"y":1.9},{"r":4,"x":1.83,"y":1.5},{"r":4,"x":3.3,"y":1.9},{"r":4,"x":4.0,"y":0.5},{"r":4,"x":0.25,"y":0.1},
  {"r":4,"x":0,"y":0.2,"c":1},{"r":4,"x":1.51,"y":0.7,"c":1},{"r":4,"x":3.06,"y":1.0,"c":1},{"r":4,"x":4.6,"y":0.5,"c":1},{"r":4,"x":6.1,"y":0.0,"c":1},{"r":4,"x":7.5,"y":-0.1,"c":1},
  {"r":5,"x":0.05,"y":0.4},{"r":5,"x":0.15,"y":2.1},{"r":5,"x":0.2,"y":1.0},{"r":5,"x":0.3,"y":0.3},{"r":5,"x":0.4,"y":1.6},{"r":5,"x":0.5,"y":2.4},{"r":5,"x":0.55,"y":7.0},{"r":5,"x":0.62,"y":9.5},{"r":5,"x":0.7,"y":0.6},{"r":5,"x":0.82,"y":2.9},{"r":5,"x":0.85,"y":5.5},{"r":5,"x":1.05,"y":2.4},{"r":5,"x":1.2,"y":4.1},{"r":5,"x":1.28,"y":6.3},{"r":5,"x":1.36,"y":7.0},{"r":5,"x":1.51,"y":1.9},{"r":5,"x":1.67,"y":1.0},{"r":5,"x":0.9,"y":1.2},{"r":5,"x":0.35,"y":0.9},
  {"r":5,"x":0,"y":0.5,"c":1},{"r":5,"x":0.79,"y":1.0,"c":1},{"r":5,"x":1.51,"y":1.5,"c":1},{"r":5,"x":2.28,"y":1.7,"c":1},{"r":5,"x":3.06,"y":1.2,"c":1},{"r":5,"x":4.6,"y":0.5,"c":1},{"r":5,"x":6.1,"y":0.0,"c":1},{"r":5,"x":7.5,"y":-0.2,"c":1},
  {"r":6,"x":0.05,"y":0.2},{"r":6,"x":0.15,"y":1.2},{"r":6,"x":0.28,"y":3.9},{"r":6,"x":0.35,"y":0.6},{"r":6,"x":0.45,"y":2.0},{"r":6,"x":0.51,"y":4.7},{"r":6,"x":0.6,"y":1.0},{"r":6,"x":0.7,"y":2.5},{"r":6,"x":0.8,"y":0.4},{"r":6,"x":0.9,"y":1.6},{"r":6,"x":1.0,"y":0.8},{"r":6,"x":1.25,"y":4.9},{"r":6,"x":1.36,"y":3.4},{"r":6,"x":2.13,"y":8.4},{"r":6,"x":1.67,"y":2.9},{"r":6,"x":1.96,"y":2.6},{"r":6,"x":1.51,"y":1.9},{"r":6,"x":2.67,"y":0.8},{"r":6,"x":7.5,"y":0.3},{"r":6,"x":1.1,"y":1.3},
  {"r":6,"x":0,"y":0.2,"c":1},{"r":6,"x":0.79,"y":0.5,"c":1},{"r":6,"x":1.51,"y":1.5,"c":1},{"r":6,"x":2.13,"y":1.9,"c":1},{"r":6,"x":3.06,"y":1.7,"c":1},{"r":6,"x":4.6,"y":1.0,"c":1},{"r":6,"x":6.1,"y":0.5,"c":1},{"r":6,"x":7.5,"y":0.3,"c":1},
  {"r":7,"x":0.05,"y":0.3},{"r":7,"x":0.15,"y":1.6},{"r":7,"x":0.25,"y":0.7},{"r":7,"x":0.35,"y":2.2},{"r":7,"x":0.48,"y":4.9},{"r":7,"x":0.55,"y":1.0},{"r":7,"x":0.65,"y":2.6},{"r":7,"x":0.79,"y":1.5},{"r":7,"x":0.9,"y":0.4},{"r":7,"x":1.0,"y":2.0},{"r":7,"x":1.13,"y":5.0},{"r":7,"x":1.2,"y":5.8},{"r":7,"x":1.4,"y":1.2},{"r":7,"x":1.79,"y":6.8},{"r":7,"x":1.82,"y":5.0},{"r":7,"x":2.33,"y":2.9},{"r":7,"x":2.91,"y":3.9},{"r":7,"x":3.36,"y":3.9},{"r":7,"x":4.61,"y":2.2},{"r":7,"x":5.46,"y":2.4},{"r":7,"x":2.0,"y":1.5},{"r":7,"x":2.6,"y":0.6},{"r":7,"x":3.0,"y":1.0},
  {"r":7,"x":0,"y":0.5,"c":1},{"r":7,"x":0.79,"y":1.2,"c":1},{"r":7,"x":1.51,"y":1.7,"c":1},{"r":7,"x":2.28,"y":1.9,"c":1},{"r":7,"x":3.06,"y":1.5,"c":1},{"r":7,"x":3.83,"y":1.0,"c":1},{"r":7,"x":4.6,"y":1.0,"c":1},{"r":7,"x":5.37,"y":1.3,"c":1},{"r":7,"x":6.14,"y":2.4,"c":1},{"r":7,"x":7.53,"y":5.0,"c":1}],
 "D":[{"r":1,"x":0.05,"y":0.3},{"r":1,"x":0.1,"y":1.0},{"r":1,"x":0.2,"y":0.5},{"r":1,"x":0.3,"y":2.0},{"r":1,"x":0.35,"y":0.2},{"r":1,"x":0.4,"y":2.6},{"r":1,"x":0.45,"y":1.3},{"r":1,"x":0.5,"y":0.7},{"r":1,"x":0.6,"y":1.6},{"r":1,"x":0.65,"y":2.6},{"r":1,"x":0.7,"y":0.4},{"r":1,"x":0.8,"y":1.0},{"r":1,"x":0.9,"y":0.3},{"r":1,"x":1.0,"y":0.6},{"r":1,"x":1.17,"y":2.3},{"r":1,"x":1.3,"y":0.5},{"r":1,"x":1.66,"y":3.6},{"r":1,"x":1.77,"y":4.6},{"r":1,"x":1.83,"y":3.1},{"r":1,"x":1.92,"y":3.9},{"r":1,"x":1.7,"y":2.1},{"r":1,"x":2.23,"y":1.8},{"r":1,"x":3.3,"y":1.4},{"r":1,"x":2.27,"y":0.5},{"r":1,"x":1.5,"y":1.0},
  {"r":1,"x":0.02,"y":0.2,"c":1},{"r":1,"x":1.06,"y":0.7,"c":1},{"r":1,"x":1.58,"y":1.2,"c":1},{"r":1,"x":2.01,"y":1.8,"c":1},{"r":1,"x":2.79,"y":1.2,"c":1},{"r":1,"x":3.66,"y":0.7,"c":1},{"r":1,"x":4.43,"y":0.4,"c":1},
  {"r":2,"x":0.05,"y":0.4},{"r":2,"x":0.15,"y":3.6},{"r":2,"x":0.2,"y":1.2},{"r":2,"x":0.32,"y":3.8},{"r":2,"x":0.35,"y":0.5},{"r":2,"x":0.4,"y":2.0},{"r":2,"x":0.45,"y":1.0},{"r":2,"x":0.5,"y":2.8},{"r":2,"x":0.56,"y":3.6},{"r":2,"x":0.62,"y":5.3},{"r":2,"x":0.6,"y":0.3},{"r":2,"x":0.7,"y":1.5},{"r":2,"x":0.8,"y":0.7},{"r":2,"x":0.88,"y":2.1},{"r":2,"x":1.0,"y":1.0},{"r":2,"x":1.14,"y":3.1},{"r":2,"x":1.36,"y":1.5},{"r":2,"x":1.58,"y":2.4},{"r":2,"x":0.25,"y":0.2},
  {"r":2,"x":0.02,"y":0.2,"c":1},{"r":2,"x":0.62,"y":0.9,"c":1},{"r":2,"x":1.23,"y":1.2,"c":1},{"r":2,"x":1.75,"y":0.9,"c":1},{"r":2,"x":2.35,"y":0.4,"c":1},{"r":2,"x":3.22,"y":0.0,"c":1},{"r":2,"x":4.43,"y":-0.1,"c":1},
  {"r":3,"x":0.05,"y":0.3},{"r":3,"x":0.15,"y":1.2},{"r":3,"x":0.24,"y":4.2},{"r":3,"x":0.28,"y":3.0},{"r":3,"x":0.35,"y":0.5},{"r":3,"x":0.4,"y":2.0},{"r":3,"x":0.45,"y":0.9},{"r":3,"x":0.5,"y":1.4},{"r":3,"x":0.55,"y":0.2},{"r":3,"x":0.6,"y":2.3},{"r":3,"x":0.7,"y":0.6},{"r":3,"x":0.8,"y":1.5},{"r":3,"x":0.97,"y":3.2},{"r":3,"x":1.14,"y":3.7},{"r":3,"x":1.21,"y":3.2},{"r":3,"x":1.32,"y":2.2},{"r":3,"x":1.45,"y":0.1},{"r":3,"x":1.6,"y":9.2},{"r":3,"x":1.66,"y":1.7},{"r":3,"x":1.83,"y":3.0},{"r":3,"x":2.11,"y":4.7},{"r":3,"x":2.35,"y":2.2},{"r":3,"x":2.48,"y":3.0},{"r":3,"x":2.64,"y":1.7},{"r":3,"x":1.0,"y":0.4},
  {"r":3,"x":0.02,"y":0.1,"c":1},{"r":3,"x":1.06,"y":0.6,"c":1},{"r":3,"x":1.92,"y":1.5,"c":1},{"r":3,"x":2.79,"y":3.2,"c":1},{"r":3,"x":3.66,"y":5.1,"c":1},{"r":3,"x":4.43,"y":7.1,"c":1},
  {"r":4,"x":0.05,"y":0.2},{"r":4,"x":0.15,"y":0.8},{"r":4,"x":0.25,"y":0.3},{"r":4,"x":0.35,"y":1.0},{"r":4,"x":0.41,"y":3.4},{"r":4,"x":0.5,"y":0.5},{"r":4,"x":0.6,"y":1.2},{"r":4,"x":0.7,"y":0.3},{"r":4,"x":0.8,"y":0.9},{"r":4,"x":0.88,"y":1.5},{"r":4,"x":1.0,"y":0.6},{"r":4,"x":1.13,"y":2.4},{"r":4,"x":1.4,"y":1.7},{"r":4,"x":1.6,"y":2.1},{"r":4,"x":2.88,"y":1.0},{"r":4,"x":3.27,"y":1.7},{"r":4,"x":4.05,"y":0.2},{"r":4,"x":1.2,"y":0.8},
  {"r":4,"x":0.02,"y":0.2,"c":1},{"r":4,"x":1.06,"y":0.5,"c":1},{"r":4,"x":1.92,"y":0.8,"c":1},{"r":4,"x":2.79,"y":1.0,"c":1},{"r":4,"x":3.66,"y":1.2,"c":1},{"r":4,"x":4.43,"y":1.4,"c":1},
  {"r":5,"x":0.05,"y":0.5},{"r":5,"x":0.17,"y":2.4},{"r":5,"x":0.25,"y":1.0},{"r":5,"x":0.36,"y":2.3},{"r":5,"x":0.4,"y":0.3},{"r":5,"x":0.45,"y":1.5},{"r":5,"x":0.5,"y":0.8},{"r":5,"x":0.58,"y":2.3},{"r":5,"x":0.65,"y":1.2},{"r":5,"x":0.78,"y":3.1},{"r":5,"x":0.85,"y":0.4},{"r":5,"x":0.95,"y":5.3},{"r":5,"x":1.13,"y":3.9},{"r":5,"x":1.3,"y":7.0},{"r":5,"x":1.33,"y":4.9},{"r":5,"x":1.53,"y":2.1},{"r":5,"x":1.66,"y":1.2},{"r":5,"x":2.05,"y":0.7},{"r":5,"x":1.0,"y":1.0},
  {"r":5,"x":0.02,"y":0.4,"c":1},{"r":5,"x":0.62,"y":0.6,"c":1},{"r":5,"x":1.06,"y":1.0,"c":1},{"r":5,"x":1.36,"y":1.9,"c":1},{"r":5,"x":1.66,"y":1.2,"c":1},{"r":5,"x":2.1,"y":0.6,"c":1},{"r":5,"x":2.79,"y":0.2,"c":1},{"r":5,"x":3.66,"y":-0.1,"c":1},{"r":5,"x":4.43,"y":-0.2,"c":1},
  {"r":6,"x":0.05,"y":0.3},{"r":6,"x":0.15,"y":1.0},{"r":6,"x":0.3,"y":3.6},{"r":6,"x":0.35,"y":0.5},{"r":6,"x":0.41,"y":1.9},{"r":6,"x":0.45,"y":0.8},{"r":6,"x":0.5,"y":0.2},{"r":6,"x":0.54,"y":4.2},{"r":6,"x":0.6,"y":1.3},{"r":6,"x":0.7,"y":0.6},{"r":6,"x":0.8,"y":1.8},{"r":6,"x":0.9,"y":0.4},{"r":6,"x":1.0,"y":1.0},{"r":6,"x":1.26,"y":4.2},{"r":6,"x":1.33,"y":2.9},{"r":6,"x":1.58,"y":2.6},{"r":6,"x":1.79,"y":2.2},{"r":6,"x":2.08,"y":0.7},{"r":6,"x":2.12,"y":8.1},{"r":6,"x":2.7,"y":0.7},
  {"r":6,"x":0.02,"y":0.1,"c":1},{"r":6,"x":0.62,"y":0.3,"c":1},{"r":6,"x":1.49,"y":1.0,"c":1},{"r":6,"x":2.35,"y":2.4,"c":1},{"r":6,"x":3.22,"y":4.4,"c":1},{"r":6,"x":3.83,"y":6.5,"c":1},{"r":6,"x":4.35,"y":10.2,"c":1},
  {"r":7,"x":0.05,"y":0.0},{"r":7,"x":0.15,"y":0.8},{"r":7,"x":0.25,"y":1.6},{"r":7,"x":0.35,"y":0.4},{"r":7,"x":0.45,"y":2.0},{"r":7,"x":0.5,"y":4.6},{"r":7,"x":0.6,"y":1.0},{"r":7,"x":0.7,"y":0.5},{"r":7,"x":0.78,"y":3.1},{"r":7,"x":0.9,"y":1.5},{"r":7,"x":1.0,"y":2.2},{"r":7,"x":1.12,"y":4.9},{"r":7,"x":1.18,"y":5.0},{"r":7,"x":1.3,"y":1.0},{"r":7,"x":1.5,"y":2.0},{"r":7,"x":1.75,"y":6.2},{"r":7,"x":1.76,"y":4.6},{"r":7,"x":2.08,"y":2.4},{"r":7,"x":2.52,"y":2.6},{"r":7,"x":2.75,"y":3.1},{"r":7,"x":2.88,"y":3.6},{"r":7,"x":3.04,"y":0.7},{"r":7,"x":3.32,"y":3.6},{"r":7,"x":1.9,"y":1.2},
  {"r":7,"x":0.02,"y":0.0,"c":1},{"r":7,"x":0.62,"y":0.7,"c":1},{"r":7,"x":1.49,"y":1.4,"c":1},{"r":7,"x":2.35,"y":1.9,"c":1},{"r":7,"x":2.61,"y":2.1,"c":1},{"r":7,"x":3.22,"y":1.7,"c":1},{"r":7,"x":3.83,"y":0.9,"c":1},{"r":7,"x":4.43,"y":0.4,"c":1}],
 "F":[{"r":1,"x":0.05,"y":0.2},{"r":1,"x":0.1,"y":1.0},{"r":1,"x":0.15,"y":0.4},{"r":1,"x":0.2,"y":1.6},{"r":1,"x":0.25,"y":0.8},{"r":1,"x":0.3,"y":2.0},{"r":1,"x":0.35,"y":0.3},{"r":1,"x":0.43,"y":2.9},{"r":1,"x":0.45,"y":1.2},{"r":1,"x":0.52,"y":2.3},{"r":1,"x":0.55,"y":0.6},{"r":1,"x":0.6,"y":1.5},{"r":1,"x":0.7,"y":0.2},{"r":1,"x":0.75,"y":1.0},{"r":1,"x":0.85,"y":0.5},{"r":1,"x":0.95,"y":1.2},{"r":1,"x":1.04,"y":3.4},{"r":1,"x":1.1,"y":0.7},{"r":1,"x":0.65,"y":1.8},
  {"r":1,"x":0.04,"y":0.3,"c":1},{"r":1,"x":1.48,"y":0.0,"c":1},{"r":1,"x":3.52,"y":-0.1,"c":1},{"r":1,"x":7.49,"y":-0.2,"c":1},
  {"r":2,"x":0.05,"y":0.4},{"r":2,"x":0.1,"y":1.3},{"r":2,"x":0.15,"y":0.2},{"r":2,"x":0.24,"y":3.5},{"r":2,"x":0.3,"y":1.0},{"r":2,"x":0.36,"y":2.7},{"r":2,"x":0.4,"y":0.5},{"r":2,"x":0.45,"y":1.8},{"r":2,"x":0.5,"y":0.3},{"r":2,"x":0.55,"y":2.2},{"r":2,"x":0.6,"y":1.0},{"r":2,"x":0.66,"y":2.1},{"r":2,"x":0.7,"y":0.4},{"r":2,"x":0.8,"y":1.4},{"r":2,"x":1.07,"y":1.4},{"r":2,"x":1.31,"y":0.6},{"r":2,"x":2.23,"y":3.0},{"r":2,"x":0.9,"y":0.6},
  {"r":2,"x":0.04,"y":0.2,"c":1},{"r":2,"x":0.79,"y":0.8,"c":1},{"r":2,"x":1.48,"y":1.4,"c":1},{"r":2,"x":2.28,"y":1.8,"c":1},{"r":2,"x":3.11,"y":1.4,"c":1},{"r":2,"x":4.21,"y":0.6,"c":1},{"r":2,"x":5.57,"y":0.2,"c":1},{"r":2,"x":7.49,"y":0.0,"c":1},
  {"r":3,"x":0.05,"y":0.3},{"r":3,"x":0.1,"y":1.5},{"r":3,"x":0.18,"y":2.5},{"r":3,"x":0.25,"y":0.6},{"r":3,"x":0.3,"y":1.8},{"r":3,"x":0.38,"y":2.6},{"r":3,"x":0.45,"y":0.4},{"r":3,"x":0.5,"y":1.2},{"r":3,"x":0.59,"y":4.9},{"r":3,"x":0.65,"y":0.8},{"r":3,"x":0.7,"y":1.6},{"r":3,"x":0.8,"y":0.2},{"r":3,"x":0.9,"y":0.9},{"r":3,"x":1.0,"y":0.4},{"r":3,"x":1.2,"y":1.0},{"r":3,"x":1.45,"y":1.2},{"r":3,"x":1.78,"y":2.6},{"r":3,"x":1.95,"y":2.5},{"r":3,"x":2.16,"y":-0.1},{"r":3,"x":2.5,"y":1.7},
  {"r":3,"x":0.04,"y":0.3,"c":1},{"r":3,"x":1.48,"y":0.7,"c":1},{"r":3,"x":2.85,"y":1.1,"c":1},{"r":3,"x":4.21,"y":1.9,"c":1},{"r":3,"x":5.57,"y":2.9,"c":1},{"r":3,"x":7.49,"y":5.3,"c":1},
  {"r":4,"x":0.05,"y":0.4},{"r":4,"x":0.11,"y":2.2},{"r":4,"x":0.18,"y":0.8},{"r":4,"x":0.27,"y":3.3},{"r":4,"x":0.3,"y":0.2},{"r":4,"x":0.4,"y":1.2},{"r":4,"x":0.45,"y":0.5},{"r":4,"x":0.55,"y":1.6},{"r":4,"x":0.6,"y":0.3},{"r":4,"x":0.7,"y":1.0},{"r":4,"x":0.8,"y":1.9},{"r":4,"x":0.86,"y":1.3},{"r":4,"x":1.0,"y":0.6},{"r":4,"x":1.3,"y":0.9},{"r":4,"x":1.76,"y":1.8},{"r":4,"x":1.86,"y":2.0},
  {"r":4,"x":0.04,"y":0.2,"c":1},{"r":4,"x":0.79,"y":0.5,"c":1},{"r":4,"x":1.88,"y":1.0,"c":1},{"r":4,"x":2.98,"y":1.2,"c":1},{"r":4,"x":4.21,"y":0.9,"c":1},{"r":4,"x":5.57,"y":0.5,"c":1},{"r":4,"x":7.49,"y":0.3,"c":1},
  {"r":5,"x":0.05,"y":0.3},{"r":5,"x":0.12,"y":1.5},{"r":5,"x":0.2,"y":0.6},{"r":5,"x":0.28,"y":2.2},{"r":5,"x":0.35,"y":0.3},{"r":5,"x":0.4,"y":2.7},{"r":5,"x":0.45,"y":1.0},{"r":5,"x":0.5,"y":1.9},{"r":5,"x":0.55,"y":0.5},{"r":5,"x":0.59,"y":6.8},{"r":5,"x":0.65,"y":1.4},{"r":5,"x":0.69,"y":9.3},{"r":5,"x":0.75,"y":0.8},{"r":5,"x":0.79,"y":4.9},{"r":5,"x":0.9,"y":0.3},{"r":5,"x":1.11,"y":0.3},{"r":5,"x":1.28,"y":1.7},{"r":5,"x":1.41,"y":2.2},{"r":5,"x":1.75,"y":2.2},{"r":5,"x":1.0,"y":1.2},
  {"r":5,"x":0.04,"y":0.2,"c":1},{"r":5,"x":0.79,"y":0.6,"c":1},{"r":5,"x":1.48,"y":1.4,"c":1},{"r":5,"x":2.16,"y":1.7,"c":1},{"r":5,"x":2.98,"y":1.4,"c":1},{"r":5,"x":4.21,"y":0.4,"c":1},{"r":5,"x":5.57,"y":0.0,"c":1},{"r":5,"x":7.49,"y":-0.1,"c":1},
  {"r":6,"x":0.05,"y":0.2},{"r":6,"x":0.12,"y":1.0},{"r":6,"x":0.2,"y":0.4},{"r":6,"x":0.28,"y":1.8},{"r":6,"x":0.35,"y":0.7},{"r":6,"x":0.42,"y":1.3},{"r":6,"x":0.5,"y":0.3},{"r":6,"x":0.55,"y":2.0},{"r":6,"x":0.62,"y":0.9},{"r":6,"x":0.7,"y":1.5},{"r":6,"x":0.79,"y":1.8},{"r":6,"x":0.85,"y":0.5},{"r":6,"x":0.95,"y":1.2},{"r":6,"x":1.38,"y":2.4},{"r":6,"x":1.72,"y":3.8},{"r":6,"x":1.95,"y":2.6},{"r":6,"x":2.36,"y":1.7},{"r":6,"x":1.78,"y":0.4},{"r":6,"x":1.2,"y":1.0},
  {"r":6,"x":0.04,"y":0.1,"c":1},{"r":6,"x":1.48,"y":1.1,"c":1},{"r":6,"x":2.43,"y":2.1,"c":1},{"r":6,"x":3.52,"y":2.5,"c":1},{"r":6,"x":4.62,"y":2.1,"c":1},{"r":6,"x":5.98,"y":0.9,"c":1},{"r":6,"x":7.49,"y":0.2,"c":1},
  {"r":7,"x":0.05,"y":0.3},{"r":7,"x":0.12,"y":0.8},{"r":7,"x":0.2,"y":0.2},{"r":7,"x":0.24,"y":2.0},{"r":7,"x":0.3,"y":1.0},{"r":7,"x":0.4,"y":0.4},{"r":7,"x":0.5,"y":1.4},{"r":7,"x":0.59,"y":2.5},{"r":7,"x":0.65,"y":0.6},{"r":7,"x":0.75,"y":1.2},{"r":7,"x":0.85,"y":0.3},{"r":7,"x":1.0,"y":0.9},{"r":7,"x":1.2,"y":0.4},{"r":7,"x":1.48,"y":2.7},{"r":7,"x":1.6,"y":0.8},{"r":7,"x":2.41,"y":1.0},{"r":7,"x":3.0,"y":0.8},{"r":7,"x":4.66,"y":2.0},{"r":7,"x":5.51,"y":2.2},
  {"r":7,"x":0.04,"y":0.2,"c":1},{"r":7,"x":1.48,"y":0.4,"c":1},{"r":7,"x":3.52,"y":0.6,"c":1},{"r":7,"x":4.9,"y":1.0,"c":1},{"r":7,"x":6.27,"y":1.7,"c":1},{"r":7,"x":7.49,"y":2.8,"c":1}]
},
"spacing":-10,
"resolve":{"scale":{"color":"independent"},"legend":{"color":"independent"}},
"vconcat":[
{"hconcat":[
 {"width":413,"height":288,"view":{"stroke":"#333","strokeWidth":1.3},
  "title":{"text":"A","offset":0},
  "resolve":{"scale":{"x":"independent","y":"independent"},"axis":{"x":"independent","y":"independent"}},
  "layer":[
   {"layer":[
    {"data":{"name":"Ap"},"mark":{"type":"circle","size":36,"color":"#2E70B5","opacity":0.85},
     "encoding":{
      "x":{"field":"x","type":"quantitative","scale":{"domain":[-0.34,7.81],"nice":false,"zero":false},"axis":{"values":[0,0.27,1,2,3,4,5,6,7],"tickCount":30,"labelExpr":"datum.value==0.27?'0.27':(datum.value%2==0?format(datum.value,'d'):'')","labelOverlap":false,"labelFlush":false,"labelFontSize":9.5,"labelPadding":4,"title":"Voltage in AF rhythm","titleFont":"Liberation Serif","titleFontSize":13.5,"titleFontWeight":"bold","titleColor":"#000","titlePadding":8}},
      "y":{"field":"y","type":"quantitative","scale":{"domain":[-0.43,9.86],"nice":false,"zero":false},"axis":{"values":[0,0.5,1.25,2.5,3.75,5,6.25,7.5,8.75],"tickCount":30,"labelExpr":"indexof([0,0.5,2.5,5,7.5],datum.value)>=0?format(datum.value,'.1f'):''","labelOverlap":false,"labelFlush":false,"labelFontSize":9.5,"labelPadding":5,"title":"Predicted Voltage in SR","titleFont":"Liberation Serif","titleFontSize":13.5,"titleFontWeight":"bold","titleColor":"#000","titlePadding":14}}}},
    {"data":{"name":"Ac"},"mark":{"type":"area","color":"#F0A585","opacity":0.5,"interpolate":"monotone"},"encoding":{"x":{"field":"x","type":"quantitative"},"y":{"field":"lo","type":"quantitative"},"y2":{"field":"hi"}}},
    {"data":{"name":"Ac"},"mark":{"type":"line","color":"#D7191C","strokeWidth":2.6,"interpolate":"monotone"},"encoding":{"x":{"field":"x","type":"quantitative"},"y":{"field":"y","type":"quantitative"}}},
    {"data":{"values":[{}]},"mark":{"type":"rule","color":"#000","strokeWidth":1.8,"strokeDash":[7,5]},"encoding":{"x":{"datum":0.27}}},
    {"data":{"values":[{}]},"mark":{"type":"rule","color":"#000","strokeWidth":1.8,"strokeDash":[7,5]},"encoding":{"y":{"datum":0.5}}},
    {"data":{"values":[{"x":0.33,"y":0.78}]},"mark":{"type":"point","shape":"circle","size":4624,"filled":false,"color":"#1FA84B","strokeWidth":2.5,"opacity":1},"encoding":{"x":{"field":"x","type":"quantitative"},"y":{"field":"y","type":"quantitative"}}},
    {"data":{"values":[{"x":1.37,"y":2.2,"x2":4.06,"y2":4.75}]},"mark":{"type":"rule","color":"#E8302A","strokeWidth":6.5,"strokeCap":"square"},"encoding":{"x":{"field":"x","type":"quantitative"},"y":{"field":"y","type":"quantitative"},"x2":{"field":"x2"},"y2":{"field":"y2"}}},
    {"data":{"values":[{"x":1.37,"y":2.2,"x2":4.06,"y2":4.75}]},"mark":{"type":"rule","color":"#FFFFFF","strokeWidth":4,"strokeCap":"butt"},"encoding":{"x":{"field":"x","type":"quantitative"},"y":{"field":"y","type":"quantitative"},"x2":{"field":"x2"},"y2":{"field":"y2"}}},
    {"data":{"values":[{"x":4.06,"y":4.75}]},"mark":{"type":"point","shape":"triangle-right","size":170,"filled":true,"fill":"#FFFFFF","stroke":"#E8302A","strokeWidth":1.3,"angle":332.4,"opacity":1},"encoding":{"x":{"field":"x","type":"quantitative"},"y":{"field":"y","type":"quantitative"}}},
    {"data":{"values":[{"x":3.8,"y":8.5,"t":"kendall_tau:0.284"}]},"mark":{"type":"text","font":"Liberation Serif","fontSize":14,"fontWeight":"bold","color":"#000"},"encoding":{"x":{"field":"x","type":"quantitative"},"y":{"field":"y","type":"quantitative"},"text":{"field":"t"}}}
   ]},
   {"layer":[
    {"data":{"values":[{"x":-0.137,"x2":1.0,"y":-0.166,"y2":1.06}]},"mark":{"type":"rect","color":"#FFFFFF","opacity":1},
     "encoding":{
      "x":{"field":"x","type":"quantitative","scale":{"domain":[-0.05,1.0],"range":[256,413],"nice":false,"zero":false},"axis":{"orient":"bottom","offset":-91,"zindex":1,"values":[0,0.27,0.5,0.75,1],"tickCount":30,"format":".2f","labelFontSize":4,"labelPadding":2,"labelColor":"#555","labelOverlap":false,"labelFlush":false,"grid":true,"gridColor":"#E6E6E6","gridWidth":0.6,"domain":true,"domainColor":"#777","domainWidth":0.8,"title":"Voltage in AF rhythm","titleFont":"Liberation Sans","titleFontSize":5,"titleFontWeight":"normal","titleColor":"#333","titlePadding":2}},
      "x2":{"field":"x2"},
      "y":{"field":"y","type":"quantitative","scale":{"domain":[-0.05,1.04],"range":[197,46],"nice":false,"zero":false},"axis":{"orient":"left","offset":-256,"zindex":1,"values":[0,0.25,0.5,0.75,1],"tickCount":30,"format":".2f","labelFontSize":4,"labelPadding":2,"labelColor":"#555","labelOverlap":false,"labelFlush":false,"grid":true,"gridColor":"#E6E6E6","gridWidth":0.6,"domain":true,"domainColor":"#777","domainWidth":0.8,"title":"Predicted Voltage in Sinus Rhythm","titleFont":"Liberation Sans","titleFontSize":4.5,"titleFontWeight":"normal","titleColor":"#333","titlePadding":2}},
      "y2":{"field":"y2"}}},
    {"data":{"name":"A1p"},"mark":{"type":"circle","size":7,"color":"#3B73B9","opacity":0.9},"encoding":{"x":{"field":"x","type":"quantitative"},"y":{"field":"y","type":"quantitative"}}},
    {"data":{"name":"A1c"},"mark":{"type":"area","color":"#F0A585","opacity":0.5,"interpolate":"monotone"},"encoding":{"x":{"field":"x","type":"quantitative"},"y":{"field":"lo","type":"quantitative"},"y2":{"field":"hi"}}},
    {"data":{"name":"A1c"},"mark":{"type":"line","color":"#E3241C","strokeWidth":1.1,"interpolate":"monotone"},"encoding":{"x":{"field":"x","type":"quantitative"},"y":{"field":"y","type":"quantitative"}}},
    {"data":{"values":[{}]},"mark":{"type":"rule","color":"#333","strokeWidth":0.7,"strokeDash":[3,2]},"encoding":{"x":{"datum":0.27},"y":{"datum":-0.05},"y2":{"datum":1.04}}},
    {"data":{"values":[{}]},"mark":{"type":"rule","color":"#333","strokeWidth":0.7,"strokeDash":[3,2]},"encoding":{"y":{"datum":0.5},"x":{"datum":-0.05},"x2":{"datum":1.0}}},
    {"data":{"values":[{"x":-0.02,"y":0.92,"t":"A1"}]},"mark":{"type":"text","align":"left","baseline":"middle","font":"Liberation Serif","fontSize":16,"fontWeight":"bold","color":"#E8211D"},"encoding":{"x":{"field":"x","type":"quantitative"},"y":{"field":"y","type":"quantitative"},"text":{"field":"t"}}}
   ]}
  ]},
 {"title":{"text":"B","offset":0},
  "data":{"name":"B"},
  "spacing":{"row":1.9},
  "resolve":{"scale":{"y":"independent"},"axis":{"y":"independent"}},
  "facet":{"row":{"field":"r","type":"ordinal","title":"SR","header":{"labelOrient":"right","labelAngle":0,"labelAlign":"left","labelFontSize":9,"labelColor":"#555","labelPadding":-12,"titleOrient":"left","titleFont":"Liberation Serif","titleFontSize":14,"titleFontWeight":"normal","titleColor":"#000","titlePadding":4}}},
  "spec":{"width":175,"height":38.4,"layer":[
   {"transform":[{"filter":"!datum.c"}],"mark":{"type":"circle","size":10,"opacity":0.55},"encoding":{
     "x":{"field":"x","type":"quantitative","scale":{"domain":[-0.15,7.9],"nice":false,"zero":false},"axis":{"values":[0,1,2,3,4,5,6,7],"tickCount":30,"labelExpr":"datum.value%2==0?format(datum.value,'d'):''","labelFontSize":6.5,"labelPadding":2,"labelFlush":false,"labelOverlap":false,"title":"AF rhythm","titleFont":"Liberation Serif","titleFontSize":14,"titleFontWeight":"normal","titleColor":"#000","titlePadding":5}},
     "y":{"field":"y","type":"quantitative","scale":{"domain":[-0.6,10.6],"nice":false,"zero":false},"axis":{"values":[0,1.25,2.5,3.75,5,6.25,7.5,8.75,10],"tickCount":30,"labelExpr":"datum.value%2.5==0?format(datum.value,'.1f'):''","labelFontSize":6.5,"labelPadding":2,"labelOverlap":false,"labelFlush":false,"title":null}},
     "color":{"field":"r","type":"nominal","scale":{"domain":[1,2,3,4,5,6,7],"range":["#F8766D","#C49A00","#53B400","#00C094","#00B6EB","#A58AFF","#FB61D7"]},"legend":{"title":null,"orient":"none","legendX":177,"legendY":108,"symbolType":"stroke","symbolStrokeWidth":2,"symbolSize":100,"symbolOpacity":1,"labelFontSize":7,"labelColor":"#555","rowPadding":1.7,"labelOffset":4,"labelExpr":"['','Anterior','Posterior','Lateral','Septum','Inferior','Roof',['Left atrial','appendage']][datum.value]"}}}},
   {"transform":[{"filter":"datum.c==1"}],"mark":{"type":"line","strokeWidth":1.3,"clip":true,"interpolate":"monotone"},"encoding":{"x":{"field":"x","type":"quantitative"},"y":{"field":"y","type":"quantitative"},"color":{"field":"r","type":"nominal"}}},
   {"transform":[{"aggregate":[{"op":"count","as":"n"}],"groupby":["r"]}],"mark":{"type":"rule","color":"#111","strokeWidth":1.2},"encoding":{"y":{"datum":0.5}}},
   {"transform":[{"aggregate":[{"op":"count","as":"n"}],"groupby":["r"]}],"mark":{"type":"rule","color":"#444","strokeWidth":1.2},"encoding":{"x":{"datum":0.5}}}
  ]}}
 ],"spacing":24,"resolve":{"scale":{"color":"independent"},"legend":{"color":"independent"}}},
{"spacing":0,"resolve":{"scale":{"color":"independent"},"legend":{"color":"independent"}},"vconcat":[
{"hconcat":[
 {"width":412,"height":288,"view":{"stroke":"#333","strokeWidth":1.3},
  "title":{"text":"C","offset":12},
  "resolve":{"scale":{"x":"independent","y":"independent"},"axis":{"x":"independent","y":"independent"}},
  "layer":[
   {"layer":[
    {"data":{"name":"Cp"},"mark":{"type":"circle","size":36,"color":"#2E70B5","opacity":0.85},
     "encoding":{
      "x":{"field":"x","type":"quantitative","scale":{"domain":[-0.19,4.66],"nice":false,"zero":false},"axis":{"values":[0,0.13,0.5,1,1.5,2,2.5,3,3.5,4,4.5],"tickCount":30,"labelExpr":"datum.value==0.13?'0.13':(datum.value%1==0?format(datum.value,'d'):'')","labelOverlap":false,"labelFlush":false,"labelFontSize":9.5,"labelPadding":4,"title":"Voltage in AF rhythm","titleFont":"Liberation Serif","titleFontSize":13.5,"titleFontWeight":"bold","titleColor":"#000","titlePadding":2}},
      "y":{"field":"y","type":"quantitative","scale":{"domain":[-0.42,9.72],"nice":false,"zero":false},"axis":{"values":[0,0.5,1.25,2.5,3.75,5,6.25,7.5,8.75],"tickCount":30,"labelExpr":"indexof([0,0.5,2.5,5,7.5],datum.value)>=0?format(datum.value,'.1f'):''","labelOverlap":false,"labelFlush":false,"labelFontSize":9.5,"labelPadding":5,"title":"Predicted Voltage in SR","titleFont":"Liberation Serif","titleFontSize":13.5,"titleFontWeight":"bold","titleColor":"#000","titlePadding":14}}}},
    {"data":{"name":"Cc"},"mark":{"type":"area","color":"#F0A585","opacity":0.5,"interpolate":"monotone"},"encoding":{"x":{"field":"x","type":"quantitative"},"y":{"field":"lo","type":"quantitative"},"y2":{"field":"hi"}}},
    {"data":{"name":"Cc"},"mark":{"type":"line","color":"#D7191C","strokeWidth":2.6,"interpolate":"monotone"},"encoding":{"x":{"field":"x","type":"quantitative"},"y":{"field":"y","type":"quantitative"}}},
    {"data":{"values":[{}]},"mark":{"type":"rule","color":"#000","strokeWidth":1.8,"strokeDash":[7,5]},"encoding":{"x":{"datum":0.13}}},
    {"data":{"values":[{}]},"mark":{"type":"rule","color":"#000","strokeWidth":1.8,"strokeDash":[7,5]},"encoding":{"y":{"datum":0.5}}},
    {"data":{"values":[{"x":0.21,"y":0.74}]},"mark":{"type":"point","shape":"circle","size":4489,"filled":false,"color":"#1FA84B","strokeWidth":2.5,"opacity":1},"encoding":{"x":{"field":"x","type":"quantitative"},"y":{"field":"y","type":"quantitative"}}},
    {"data":{"values":[{"x":0.59,"y":1.76,"x2":2.12,"y2":4.22}]},"mark":{"type":"rule","color":"#E8302A","strokeWidth":6.5,"strokeCap":"square"},"encoding":{"x":{"field":"x","type":"quantitative"},"y":{"field":"y","type":"quantitative"},"x2":{"field":"x2"},"y2":{"field":"y2"}}},
    {"data":{"values":[{"x":0.59,"y":1.76,"x2":2.12,"y2":4.22}]},"mark":{"type":"rule","color":"#FFFFFF","strokeWidth":4,"strokeCap":"butt"},"encoding":{"x":{"field":"x","type":"quantitative"},"y":{"field":"y","type":"quantitative"},"x2":{"field":"x2"},"y2":{"field":"y2"}}},
    {"data":{"values":[{"x":2.12,"y":4.22}]},"mark":{"type":"point","shape":"triangle-right","size":170,"filled":true,"fill":"#FFFFFF","stroke":"#E8302A","strokeWidth":1.3,"angle":331.7,"opacity":1},"encoding":{"x":{"field":"x","type":"quantitative"},"y":{"field":"y","type":"quantitative"}}},
    {"data":{"values":[{"x":2.25,"y":8.73,"t":"kendall_tau:0.256"}]},"mark":{"type":"text","font":"Liberation Serif","fontSize":14,"fontWeight":"bold","color":"#000"},"encoding":{"x":{"field":"x","type":"quantitative"},"y":{"field":"y","type":"quantitative"},"text":{"field":"t"}}}
   ]},
   {"layer":[
    {"data":{"values":[{"x":-0.124,"x2":1.03,"y":-0.19,"y2":1.067}]},"mark":{"type":"rect","color":"#FFFFFF","opacity":1},
     "encoding":{
      "x":{"field":"x","type":"quantitative","scale":{"domain":[-0.05,1.02],"range":[221,410],"nice":false,"zero":false},"axis":{"orient":"bottom","offset":-118,"zindex":1,"values":[0,0.13,0.25,0.5,0.75,1],"tickCount":30,"format":".2f","labelFontSize":4,"labelPadding":2,"labelColor":"#555","labelOverlap":false,"labelFlush":false,"grid":true,"gridColor":"#E6E6E6","gridWidth":0.6,"domain":true,"domainColor":"#777","domainWidth":0.8,"title":"Voltage in AF rhythm","titleFont":"Liberation Sans","titleFontSize":5,"titleFontWeight":"normal","titleColor":"#333","titlePadding":2}},
      "x2":{"field":"x2"},
      "y":{"field":"y","type":"quantitative","scale":{"domain":[-0.05,1.05],"range":[170,37],"nice":false,"zero":false},"axis":{"orient":"left","offset":-221,"zindex":1,"values":[0,0.25,0.5,0.75,1],"tickCount":30,"format":".2f","labelFontSize":4,"labelPadding":2,"labelColor":"#555","labelOverlap":false,"labelFlush":false,"grid":true,"gridColor":"#E6E6E6","gridWidth":0.6,"domain":true,"domainColor":"#777","domainWidth":0.8,"title":"Predicted Voltage in Sinus Rhythm","titleFont":"Liberation Sans","titleFontSize":4.5,"titleFontWeight":"normal","titleColor":"#333","titlePadding":2}},
      "y2":{"field":"y2"}}},
    {"data":{"name":"C1p"},"mark":{"type":"circle","size":7,"color":"#3B73B9","opacity":0.9},"encoding":{"x":{"field":"x","type":"quantitative"},"y":{"field":"y","type":"quantitative"}}},
    {"data":{"name":"C1c"},"mark":{"type":"area","color":"#F0A585","opacity":0.5,"interpolate":"monotone"},"encoding":{"x":{"field":"x","type":"quantitative"},"y":{"field":"lo","type":"quantitative"},"y2":{"field":"hi"}}},
    {"data":{"name":"C1c"},"transform":[{"filter":"datum.x<1"}],"mark":{"type":"line","color":"#E3241C","strokeWidth":1.1},"encoding":{"x":{"field":"x","type":"quantitative"},"y":{"field":"y","type":"quantitative"}}},
    {"data":{"values":[{}]},"mark":{"type":"rule","color":"#333","strokeWidth":0.7,"strokeDash":[3,2]},"encoding":{"x":{"datum":0.13},"y":{"datum":-0.05},"y2":{"datum":1.05}}},
    {"data":{"values":[{}]},"mark":{"type":"rule","color":"#333","strokeWidth":0.7,"strokeDash":[3,2]},"encoding":{"y":{"datum":0.5},"x":{"datum":-0.05},"x2":{"datum":1.02}}},
    {"data":{"values":[{"x":0.0,"y":0.92,"t":"C1"}]},"mark":{"type":"text","align":"left","baseline":"middle","font":"Liberation Serif","fontSize":16,"fontWeight":"bold","color":"#E8211D"},"encoding":{"x":{"field":"x","type":"quantitative"},"y":{"field":"y","type":"quantitative"},"text":{"field":"t"}}}
   ]}
  ]},
 {"title":{"text":"D","offset":15},
  "data":{"name":"D"},
  "spacing":{"row":0.1},
  "resolve":{"scale":{"y":"independent"},"axis":{"y":"independent"}},
  "facet":{"row":{"field":"r","type":"ordinal","title":"SR","header":{"labelOrient":"right","labelAngle":0,"labelAlign":"left","labelFontSize":9,"labelColor":"#555","labelPadding":-12,"titleOrient":"left","titleFont":"Liberation Serif","titleFontSize":14,"titleFontWeight":"normal","titleColor":"#000","titlePadding":4}}},
  "spec":{"width":176,"height":39.2,"layer":[
   {"transform":[{"filter":"!datum.c"}],"mark":{"type":"circle","size":10,"opacity":0.55},"encoding":{
     "x":{"field":"x","type":"quantitative","scale":{"domain":[-0.08,4.5],"nice":false,"zero":false},"axis":{"values":[0,0.5,1,1.5,2,2.5,3,3.5,4,4.5],"tickCount":30,"labelExpr":"datum.value%1==0?format(datum.value,'d'):''","labelFontSize":6.5,"labelPadding":2,"labelFlush":false,"labelOverlap":false,"title":"AF rhythm","titleFont":"Liberation Serif","titleFontSize":14,"titleFontWeight":"normal","titleColor":"#000","titlePadding":5}},
     "y":{"field":"y","type":"quantitative","scale":{"domain":[-0.6,10.6],"nice":false,"zero":false},"axis":{"values":[0,1.25,2.5,3.75,5,6.25,7.5,8.75,10],"tickCount":30,"labelExpr":"datum.value%2.5==0?format(datum.value,'.1f'):''","labelFontSize":6.5,"labelPadding":2,"labelOverlap":false,"labelFlush":false,"title":null}},
     "color":{"field":"r","type":"nominal","scale":{"domain":[1,2,3,4,5,6,7],"range":["#F8766D","#C49A00","#53B400","#00C094","#00B6EB","#A58AFF","#FB61D7"]},"legend":{"title":null,"orient":"none","legendX":179,"legendY":113,"symbolType":"stroke","symbolStrokeWidth":2,"symbolSize":100,"symbolOpacity":1,"labelFontSize":7,"labelColor":"#555","rowPadding":1.7,"labelOffset":4,"labelExpr":"['','Anterior','Posterior','Lateral','Septum','Inferior','Roof',['Left atrial','appendag']][datum.value]"}}}},
   {"transform":[{"filter":"datum.c==1"}],"mark":{"type":"line","strokeWidth":1.3,"clip":true,"interpolate":"monotone"},"encoding":{"x":{"field":"x","type":"quantitative"},"y":{"field":"y","type":"quantitative"},"color":{"field":"r","type":"nominal"}}},
   {"transform":[{"aggregate":[{"op":"count","as":"n"}],"groupby":["r"]}],"mark":{"type":"rule","color":"#111","strokeWidth":1.2},"encoding":{"y":{"datum":0.5}}},
   {"transform":[{"aggregate":[{"op":"count","as":"n"}],"groupby":["r"]}],"mark":{"type":"rule","color":"#444","strokeWidth":1.2},"encoding":{"x":{"datum":0.5}}}
  ]}}
 ],"spacing":26,"resolve":{"scale":{"color":"independent"},"legend":{"color":"independent"}}},
{"hconcat":[
 {"width":401,"height":280,"view":{"stroke":"#333","strokeWidth":1.3},
  "title":{"text":"E","offset":10},
  "resolve":{"scale":{"x":"independent","y":"independent"},"axis":{"x":"independent","y":"independent"}},
  "layer":[
   {"layer":[
    {"data":{"name":"Ep"},"mark":{"type":"circle","size":36,"color":"#2E70B5","opacity":0.85},
     "encoding":{
      "x":{"field":"x","type":"quantitative","scale":{"domain":[-0.34,7.79],"nice":false,"zero":false},"axis":{"values":[0,0.32,1,2,3,4,5,6,7],"tickCount":30,"labelExpr":"datum.value==0.32?'0.32':(datum.value%2==0?format(datum.value,'d'):'')","labelOverlap":false,"labelFlush":false,"labelFontSize":9.5,"labelPadding":4,"title":"Voltage in AF rhythm","titleFont":"Liberation Serif","titleFontSize":13.5,"titleFontWeight":"bold","titleColor":"#000","titlePadding":9}},
      "y":{"field":"y","type":"quantitative","scale":{"domain":[-0.4,9.85],"nice":false,"zero":false},"axis":{"values":[0,0.5,1.25,2.5,3.75,5,6.25,7.5,8.75],"tickCount":30,"labelExpr":"indexof([0,0.5,2.5,5,7.5],datum.value)>=0?format(datum.value,'.1f'):''","labelOverlap":false,"labelFlush":false,"labelFontSize":9.5,"labelPadding":5,"title":"Predicted Voltage in SR","titleFont":"Liberation Serif","titleFontSize":13.5,"titleFontWeight":"bold","titleColor":"#000","titlePadding":14}}}},
    {"data":{"name":"Ec"},"mark":{"type":"area","color":"#F0A585","opacity":0.5,"interpolate":"monotone"},"encoding":{"x":{"field":"x","type":"quantitative"},"y":{"field":"lo","type":"quantitative"},"y2":{"field":"hi"}}},
    {"data":{"name":"Ec"},"mark":{"type":"line","color":"#D7191C","strokeWidth":2.6,"interpolate":"monotone"},"encoding":{"x":{"field":"x","type":"quantitative"},"y":{"field":"y","type":"quantitative"}}},
    {"data":{"values":[{}]},"mark":{"type":"rule","color":"#000","strokeWidth":1.8,"strokeDash":[7,5]},"encoding":{"x":{"datum":0.32}}},
    {"data":{"values":[{}]},"mark":{"type":"rule","color":"#000","strokeWidth":1.8,"strokeDash":[7,5]},"encoding":{"y":{"datum":0.55}}},
    {"data":{"values":[{"x":0.32,"y":0.8}]},"mark":{"type":"point","shape":"circle","size":4096,"filled":false,"color":"#1FA84B","strokeWidth":2.5,"opacity":1},"encoding":{"x":{"field":"x","type":"quantitative"},"y":{"field":"y","type":"quantitative"}}},
    {"data":{"values":[{"x":0.79,"y":1.9,"x2":3.37,"y2":4.39}]},"mark":{"type":"rule","color":"#E8302A","strokeWidth":6.5,"strokeCap":"square"},"encoding":{"x":{"field":"x","type":"quantitative"},"y":{"field":"y","type":"quantitative"},"x2":{"field":"x2"},"y2":{"field":"y2"}}},
    {"data":{"values":[{"x":0.79,"y":1.9,"x2":3.37,"y2":4.39}]},"mark":{"type":"rule","color":"#FFFFFF","strokeWidth":4,"strokeCap":"butt"},"encoding":{"x":{"field":"x","type":"quantitative"},"y":{"field":"y","type":"quantitative"},"x2":{"field":"x2"},"y2":{"field":"y2"}}},
    {"data":{"values":[{"x":3.37,"y":4.39}]},"mark":{"type":"point","shape":"triangle-right","size":170,"filled":true,"fill":"#FFFFFF","stroke":"#E8302A","strokeWidth":1.3,"angle":331.9,"opacity":1},"encoding":{"x":{"field":"x","type":"quantitative"},"y":{"field":"y","type":"quantitative"}}},
    {"data":{"values":[{"x":3.77,"y":8.53,"t":"kendall_tau:0.280"}]},"mark":{"type":"text","font":"Liberation Serif","fontSize":14,"fontWeight":"bold","color":"#000"},"encoding":{"x":{"field":"x","type":"quantitative"},"y":{"field":"y","type":"quantitative"},"text":{"field":"t"}}}
   ]},
   {"layer":[
    {"data":{"values":[{"x":-0.154,"x2":1.06,"y":-0.169,"y2":1.076}]},"mark":{"type":"rect","color":"#FFFFFF","opacity":1},
     "encoding":{
      "x":{"field":"x","type":"quantitative","scale":{"domain":[-0.05,1.05],"range":[209,399],"nice":false,"zero":false},"axis":{"orient":"bottom","offset":-93,"zindex":1,"values":[0,0.32,0.5,0.75,1],"tickCount":30,"format":".2f","labelFontSize":4,"labelPadding":2,"labelColor":"#555","labelOverlap":false,"labelFlush":false,"grid":true,"gridColor":"#E6E6E6","gridWidth":0.6,"domain":true,"domainColor":"#777","domainWidth":0.8,"title":"Voltage in AF rhythm","titleFont":"Liberation Sans","titleFontSize":5,"titleFontWeight":"normal","titleColor":"#333","titlePadding":2}},
      "x2":{"field":"x2"},
      "y":{"field":"y","type":"quantitative","scale":{"domain":[-0.05,1.06],"range":[187,47],"nice":false,"zero":false},"axis":{"orient":"left","offset":-209,"zindex":1,"values":[0,0.25,0.5,0.75,1],"tickCount":30,"format":".2f","labelFontSize":4,"labelPadding":2,"labelColor":"#555","labelOverlap":false,"labelFlush":false,"grid":true,"gridColor":"#E6E6E6","gridWidth":0.6,"domain":true,"domainColor":"#777","domainWidth":0.8,"title":"Predicted Voltage in Sinus Rhythm","titleFont":"Liberation Sans","titleFontSize":4.5,"titleFontWeight":"normal","titleColor":"#333","titlePadding":2}},
      "y2":{"field":"y2"}}},
    {"data":{"name":"E1p"},"mark":{"type":"circle","size":7,"color":"#3B73B9","opacity":0.9},"encoding":{"x":{"field":"x","type":"quantitative"},"y":{"field":"y","type":"quantitative"}}},
    {"data":{"name":"E1c"},"mark":{"type":"area","color":"#F0A585","opacity":0.5,"interpolate":"monotone"},"encoding":{"x":{"field":"x","type":"quantitative"},"y":{"field":"lo","type":"quantitative"},"y2":{"field":"hi"}}},
    {"data":{"name":"E1c"},"mark":{"type":"line","color":"#E3241C","strokeWidth":1.1,"interpolate":"monotone"},"encoding":{"x":{"field":"x","type":"quantitative"},"y":{"field":"y","type":"quantitative"}}},
    {"data":{"values":[{}]},"mark":{"type":"rule","color":"#333","strokeWidth":0.7,"strokeDash":[3,2]},"encoding":{"x":{"datum":0.32},"y":{"datum":-0.05},"y2":{"datum":1.06}}},
    {"data":{"values":[{}]},"mark":{"type":"rule","color":"#333","strokeWidth":0.7,"strokeDash":[3,2]},"encoding":{"y":{"datum":0.5},"x":{"datum":-0.05},"x2":{"datum":1.05}}},
    {"data":{"values":[{"x":-0.01,"y":0.94,"t":"E1"}]},"mark":{"type":"text","align":"left","baseline":"middle","font":"Liberation Serif","fontSize":16,"fontWeight":"bold","color":"#E8211D"},"encoding":{"x":{"field":"x","type":"quantitative"},"y":{"field":"y","type":"quantitative"},"text":{"field":"t"}}}
   ]}
  ]},
 {"title":{"text":"F","offset":10},
  "data":{"name":"F"},
  "spacing":{"row":0},
  "resolve":{"scale":{"y":"independent"},"axis":{"y":"independent"}},
  "facet":{"row":{"field":"r","type":"ordinal","title":"SR","header":{"labelOrient":"right","labelAngle":0,"labelAlign":"left","labelFontSize":9,"labelColor":"#555","labelPadding":-12,"titleOrient":"left","titleFont":"Liberation Serif","titleFontSize":14,"titleFontWeight":"normal","titleColor":"#000","titlePadding":4}}},
  "spec":{"width":197,"height":37.2,"layer":[
   {"transform":[{"filter":"!datum.c"}],"mark":{"type":"circle","size":10,"opacity":0.55},"encoding":{
     "x":{"field":"x","type":"quantitative","scale":{"domain":[-0.29,7.79],"nice":false,"zero":false},"axis":{"values":[0,1,2,3,4,5,6,7],"tickCount":30,"labelExpr":"datum.value%2==0?format(datum.value,'d'):''","labelFontSize":6.5,"labelPadding":2,"labelFlush":false,"labelOverlap":false,"title":"AF rhythm","titleFont":"Liberation Serif","titleFontSize":14,"titleFontWeight":"normal","titleColor":"#000","titlePadding":5}},
     "y":{"field":"y","type":"quantitative","scale":{"domain":[-0.6,10.6],"nice":false,"zero":false},"axis":{"values":[0,1.25,2.5,3.75,5,6.25,7.5,8.75,10],"tickCount":30,"labelExpr":"datum.value%2.5==0?format(datum.value,'.1f'):''","labelFontSize":6.5,"labelPadding":2,"labelOverlap":false,"labelFlush":false,"title":null}},
     "color":{"field":"r","type":"nominal","scale":{"domain":[1,2,3,4,5,6,7],"range":["#F8766D","#C49A00","#53B400","#00C094","#00B6EB","#A58AFF","#FB61D7"]},"legend":{"title":null,"orient":"none","legendX":206,"legendY":109,"symbolType":"stroke","symbolStrokeWidth":2,"symbolSize":100,"symbolOpacity":1,"labelFontSize":7,"labelColor":"#555","rowPadding":1.7,"labelOffset":4,"labelExpr":"['','Anterior','Posterior','Lateral','Septum','Inferior','Roof',['Left atrial','appendage']][datum.value]"}}}},
   {"transform":[{"filter":"datum.c==1"}],"mark":{"type":"line","strokeWidth":1.3,"clip":true,"interpolate":"monotone"},"encoding":{"x":{"field":"x","type":"quantitative"},"y":{"field":"y","type":"quantitative"},"color":{"field":"r","type":"nominal"}}},
   {"transform":[{"aggregate":[{"op":"count","as":"n"}],"groupby":["r"]}],"mark":{"type":"rule","color":"#111","strokeWidth":1.2},"encoding":{"y":{"datum":0.5}}},
   {"transform":[{"aggregate":[{"op":"count","as":"n"}],"groupby":["r"]}],"mark":{"type":"rule","color":"#444","strokeWidth":1.2},"encoding":{"x":{"datum":0.5}}}
  ]}}
 ],"spacing":12,"resolve":{"scale":{"color":"independent"},"legend":{"color":"independent"}}}
]}
]
}
